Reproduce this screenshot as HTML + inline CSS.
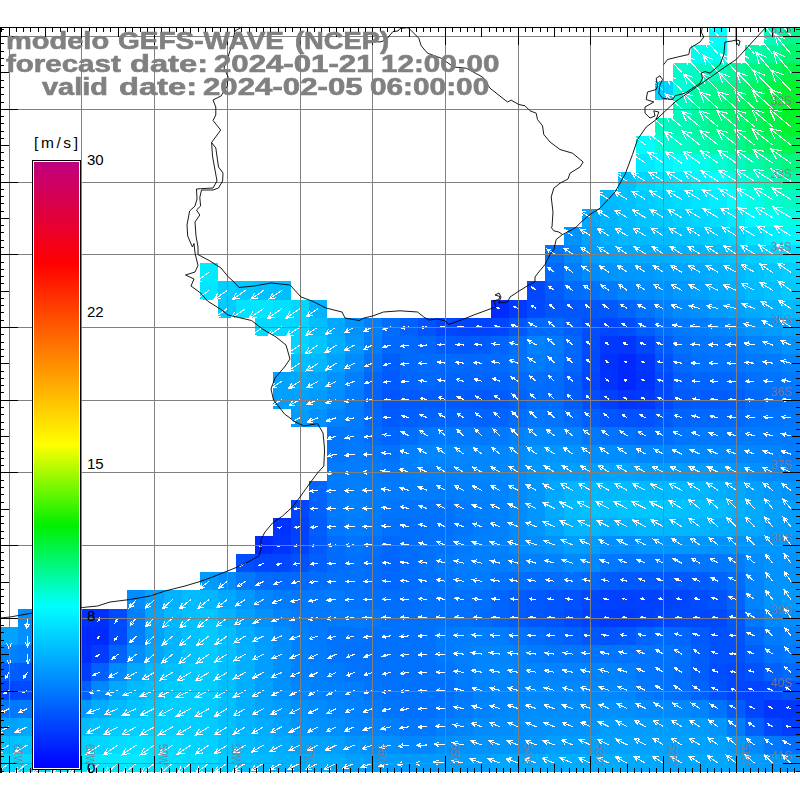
<!DOCTYPE html>
<html><head><meta charset="utf-8"><title>GEFS-WAVE wind</title>
<style>
html,body{margin:0;padding:0;background:#fff}
#c{position:relative;width:800px;height:800px;overflow:hidden;background:#fff;font-family:"Liberation Sans",sans-serif}
.t{position:absolute;white-space:nowrap;font-weight:bold;color:#808080;font-size:24.5px;line-height:24.5px;transform-origin:0 0;-webkit-text-stroke:0.65px #808080;will-change:transform}
.lat{position:absolute;right:8px;width:60px;text-align:right;font-size:12.5px;line-height:12.5px;color:rgba(136,120,136,.85);transform-origin:100% 0;transform:scaleX(.95)}
.lon{position:absolute;top:744px;font-size:12px;line-height:12px;color:rgba(136,120,136,.85);transform-origin:0 0;transform:rotate(90deg) translate(0,-10.2px) scaleX(.86);white-space:nowrap}
.cbl{position:absolute;left:87px;font-size:15px;line-height:18px;color:#000}
#cb{position:absolute;left:32px;top:160px;width:45px;height:606px;border:1px solid #fff;outline:1px solid #000;outline-offset:0;background:linear-gradient(to bottom,#c00080 0.00%,#ff0000 16.67%,#ffff00 46.67%,#00f000 60.00%,#00ffff 73.33%,#0000ff 100.00%)}
</style></head><body><div id="c">
<svg width="800" height="800" viewBox="0 0 800 800" style="position:absolute;left:0;top:0">
<g shape-rendering="crispEdges">
<rect x="709" y="27" width="18" height="18" fill="#00ffff"/>
<rect x="764" y="27" width="18" height="18" fill="#00fbbc"/>
<rect x="782" y="27" width="18" height="18" fill="#00f88d"/>
<rect x="691" y="45" width="36" height="18" fill="#00feef"/>
<rect x="745" y="45" width="19" height="18" fill="#00faab"/>
<rect x="764" y="45" width="18" height="18" fill="#00f996"/>
<rect x="782" y="45" width="18" height="18" fill="#00f66e"/>
<rect x="673" y="63" width="18" height="18" fill="#00fccc"/>
<rect x="691" y="63" width="18" height="18" fill="#00fbc3"/>
<rect x="709" y="63" width="18" height="18" fill="#00fbba"/>
<rect x="727" y="63" width="18" height="18" fill="#00f99c"/>
<rect x="745" y="63" width="19" height="18" fill="#00f882"/>
<rect x="764" y="63" width="18" height="18" fill="#00f664"/>
<rect x="782" y="63" width="18" height="18" fill="#00f448"/>
<rect x="655" y="81" width="18" height="19" fill="#00d3ff"/>
<rect x="673" y="81" width="18" height="19" fill="#00fdd6"/>
<rect x="691" y="81" width="18" height="19" fill="#00faa5"/>
<rect x="709" y="81" width="18" height="19" fill="#00f88e"/>
<rect x="727" y="81" width="18" height="19" fill="#00f77d"/>
<rect x="745" y="81" width="19" height="19" fill="#00f664"/>
<rect x="764" y="81" width="18" height="19" fill="#00f446"/>
<rect x="782" y="81" width="18" height="19" fill="#00f32d"/>
<rect x="673" y="100" width="18" height="18" fill="#00fbc1"/>
<rect x="691" y="100" width="18" height="18" fill="#00f99f"/>
<rect x="709" y="100" width="18" height="18" fill="#00f882"/>
<rect x="727" y="100" width="18" height="18" fill="#00f66d"/>
<rect x="745" y="100" width="19" height="18" fill="#00f55c"/>
<rect x="764" y="100" width="18" height="18" fill="#00f440"/>
<rect x="782" y="100" width="18" height="18" fill="#00f227"/>
<rect x="655" y="118" width="18" height="18" fill="#00fbc2"/>
<rect x="673" y="118" width="18" height="18" fill="#00fbb9"/>
<rect x="691" y="118" width="18" height="18" fill="#00f9a0"/>
<rect x="709" y="118" width="18" height="18" fill="#00f888"/>
<rect x="727" y="118" width="18" height="18" fill="#00f777"/>
<rect x="745" y="118" width="19" height="18" fill="#00f660"/>
<rect x="764" y="118" width="18" height="18" fill="#00f445"/>
<rect x="782" y="118" width="18" height="18" fill="#00f32d"/>
<rect x="636" y="136" width="19" height="18" fill="#00fffa"/>
<rect x="655" y="136" width="18" height="18" fill="#00fdd8"/>
<rect x="673" y="136" width="18" height="18" fill="#00fcc7"/>
<rect x="691" y="136" width="18" height="18" fill="#00fbb3"/>
<rect x="709" y="136" width="18" height="18" fill="#00faa3"/>
<rect x="727" y="136" width="18" height="18" fill="#00f88d"/>
<rect x="745" y="136" width="19" height="18" fill="#00f774"/>
<rect x="764" y="136" width="18" height="18" fill="#00f662"/>
<rect x="782" y="136" width="18" height="18" fill="#00f54d"/>
<rect x="636" y="154" width="19" height="18" fill="#00ebff"/>
<rect x="655" y="154" width="18" height="18" fill="#00f7ff"/>
<rect x="673" y="154" width="18" height="18" fill="#00fffd"/>
<rect x="691" y="154" width="18" height="18" fill="#00feea"/>
<rect x="709" y="154" width="18" height="18" fill="#00fdd8"/>
<rect x="727" y="154" width="18" height="18" fill="#00fbc2"/>
<rect x="745" y="154" width="19" height="18" fill="#00faab"/>
<rect x="764" y="154" width="18" height="18" fill="#00f995"/>
<rect x="782" y="154" width="18" height="18" fill="#00f880"/>
<rect x="618" y="172" width="18" height="18" fill="#00c2ff"/>
<rect x="636" y="172" width="19" height="18" fill="#00d5ff"/>
<rect x="655" y="172" width="18" height="18" fill="#00e1ff"/>
<rect x="673" y="172" width="18" height="18" fill="#00eaff"/>
<rect x="691" y="172" width="18" height="18" fill="#00f5ff"/>
<rect x="709" y="172" width="18" height="18" fill="#00feff"/>
<rect x="727" y="172" width="18" height="18" fill="#00fde3"/>
<rect x="745" y="172" width="19" height="18" fill="#00fcca"/>
<rect x="764" y="172" width="18" height="18" fill="#00fbb4"/>
<rect x="782" y="172" width="18" height="18" fill="#00faa4"/>
<rect x="600" y="190" width="18" height="19" fill="#00b9ff"/>
<rect x="618" y="190" width="18" height="19" fill="#00c1ff"/>
<rect x="636" y="190" width="19" height="19" fill="#00cbff"/>
<rect x="655" y="190" width="18" height="19" fill="#00d4ff"/>
<rect x="673" y="190" width="18" height="19" fill="#00dcff"/>
<rect x="691" y="190" width="18" height="19" fill="#00e5ff"/>
<rect x="709" y="190" width="18" height="19" fill="#00eeff"/>
<rect x="727" y="190" width="18" height="19" fill="#00fdff"/>
<rect x="745" y="190" width="19" height="19" fill="#00fee7"/>
<rect x="764" y="190" width="18" height="19" fill="#00fcd0"/>
<rect x="782" y="190" width="18" height="19" fill="#00fbc3"/>
<rect x="582" y="209" width="18" height="18" fill="#00a8ff"/>
<rect x="600" y="209" width="18" height="18" fill="#00b3ff"/>
<rect x="618" y="209" width="18" height="18" fill="#00bcff"/>
<rect x="636" y="209" width="19" height="18" fill="#00c3ff"/>
<rect x="655" y="209" width="18" height="18" fill="#00c8ff"/>
<rect x="673" y="209" width="18" height="18" fill="#00ceff"/>
<rect x="691" y="209" width="18" height="18" fill="#00d5ff"/>
<rect x="709" y="209" width="18" height="18" fill="#00deff"/>
<rect x="727" y="209" width="18" height="18" fill="#00eaff"/>
<rect x="745" y="209" width="19" height="18" fill="#00f8ff"/>
<rect x="764" y="209" width="18" height="18" fill="#00fef5"/>
<rect x="782" y="209" width="18" height="18" fill="#00fde5"/>
<rect x="564" y="227" width="18" height="18" fill="#0093ff"/>
<rect x="582" y="227" width="18" height="18" fill="#00a3ff"/>
<rect x="600" y="227" width="18" height="18" fill="#00aeff"/>
<rect x="618" y="227" width="18" height="18" fill="#00b6ff"/>
<rect x="636" y="227" width="19" height="18" fill="#00b9ff"/>
<rect x="655" y="227" width="18" height="18" fill="#00bcff"/>
<rect x="673" y="227" width="18" height="18" fill="#00c1ff"/>
<rect x="691" y="227" width="18" height="18" fill="#00c7ff"/>
<rect x="709" y="227" width="18" height="18" fill="#00cdff"/>
<rect x="727" y="227" width="18" height="18" fill="#00d5ff"/>
<rect x="745" y="227" width="19" height="18" fill="#00e2ff"/>
<rect x="764" y="227" width="18" height="18" fill="#00eeff"/>
<rect x="782" y="227" width="18" height="18" fill="#00f7ff"/>
<rect x="545" y="245" width="19" height="18" fill="#0073ff"/>
<rect x="564" y="245" width="18" height="18" fill="#0089ff"/>
<rect x="582" y="245" width="18" height="18" fill="#009bff"/>
<rect x="600" y="245" width="18" height="18" fill="#00a4ff"/>
<rect x="618" y="245" width="18" height="18" fill="#00a8ff"/>
<rect x="636" y="245" width="19" height="18" fill="#00aaff"/>
<rect x="655" y="245" width="18" height="18" fill="#00aeff"/>
<rect x="673" y="245" width="18" height="18" fill="#00b2ff"/>
<rect x="691" y="245" width="18" height="18" fill="#00b7ff"/>
<rect x="709" y="245" width="18" height="18" fill="#00bdff"/>
<rect x="727" y="245" width="18" height="18" fill="#00c4ff"/>
<rect x="745" y="245" width="19" height="18" fill="#00cdff"/>
<rect x="764" y="245" width="18" height="18" fill="#00d6ff"/>
<rect x="782" y="245" width="18" height="18" fill="#00ddff"/>
<rect x="200" y="263" width="18" height="18" fill="#00edff"/>
<rect x="545" y="263" width="19" height="18" fill="#0069ff"/>
<rect x="564" y="263" width="18" height="18" fill="#007eff"/>
<rect x="582" y="263" width="18" height="18" fill="#008cff"/>
<rect x="600" y="263" width="18" height="18" fill="#0094ff"/>
<rect x="618" y="263" width="18" height="18" fill="#0098ff"/>
<rect x="636" y="263" width="19" height="18" fill="#009aff"/>
<rect x="655" y="263" width="18" height="18" fill="#009eff"/>
<rect x="673" y="263" width="18" height="18" fill="#00a4ff"/>
<rect x="691" y="263" width="18" height="18" fill="#00a9ff"/>
<rect x="709" y="263" width="18" height="18" fill="#00b1ff"/>
<rect x="727" y="263" width="18" height="18" fill="#00b8ff"/>
<rect x="745" y="263" width="19" height="18" fill="#00c1ff"/>
<rect x="764" y="263" width="18" height="18" fill="#00c8ff"/>
<rect x="782" y="263" width="18" height="18" fill="#00cfff"/>
<rect x="200" y="281" width="18" height="19" fill="#00e7ff"/>
<rect x="218" y="281" width="18" height="19" fill="#00ceff"/>
<rect x="236" y="281" width="19" height="19" fill="#00c9ff"/>
<rect x="255" y="281" width="18" height="19" fill="#00c1ff"/>
<rect x="273" y="281" width="18" height="19" fill="#00bfff"/>
<rect x="527" y="281" width="18" height="19" fill="#0047ff"/>
<rect x="545" y="281" width="19" height="19" fill="#005cff"/>
<rect x="564" y="281" width="18" height="19" fill="#006bff"/>
<rect x="582" y="281" width="18" height="19" fill="#0071ff"/>
<rect x="600" y="281" width="18" height="19" fill="#007bff"/>
<rect x="618" y="281" width="18" height="19" fill="#0086ff"/>
<rect x="636" y="281" width="19" height="19" fill="#008bff"/>
<rect x="655" y="281" width="18" height="19" fill="#0091ff"/>
<rect x="673" y="281" width="18" height="19" fill="#009aff"/>
<rect x="691" y="281" width="18" height="19" fill="#00a0ff"/>
<rect x="709" y="281" width="18" height="19" fill="#00aaff"/>
<rect x="727" y="281" width="18" height="19" fill="#00b0ff"/>
<rect x="745" y="281" width="19" height="19" fill="#00baff"/>
<rect x="764" y="281" width="18" height="19" fill="#00c0ff"/>
<rect x="782" y="281" width="18" height="19" fill="#00c9ff"/>
<rect x="218" y="300" width="18" height="18" fill="#00ccff"/>
<rect x="236" y="300" width="19" height="18" fill="#00e5ff"/>
<rect x="255" y="300" width="18" height="18" fill="#00e6ff"/>
<rect x="273" y="300" width="18" height="18" fill="#00e1ff"/>
<rect x="291" y="300" width="18" height="18" fill="#00d7ff"/>
<rect x="309" y="300" width="18" height="18" fill="#00b4ff"/>
<rect x="491" y="300" width="18" height="18" fill="#002cff"/>
<rect x="509" y="300" width="18" height="18" fill="#003aff"/>
<rect x="527" y="300" width="18" height="18" fill="#0049ff"/>
<rect x="545" y="300" width="19" height="18" fill="#0055ff"/>
<rect x="564" y="300" width="18" height="18" fill="#0057ff"/>
<rect x="582" y="300" width="18" height="18" fill="#0056ff"/>
<rect x="600" y="300" width="18" height="18" fill="#0059ff"/>
<rect x="618" y="300" width="18" height="18" fill="#0065ff"/>
<rect x="636" y="300" width="19" height="18" fill="#0073ff"/>
<rect x="655" y="300" width="18" height="18" fill="#0080ff"/>
<rect x="673" y="300" width="18" height="18" fill="#008bff"/>
<rect x="691" y="300" width="18" height="18" fill="#0091ff"/>
<rect x="709" y="300" width="18" height="18" fill="#009bff"/>
<rect x="727" y="300" width="18" height="18" fill="#00a1ff"/>
<rect x="745" y="300" width="19" height="18" fill="#00abff"/>
<rect x="764" y="300" width="18" height="18" fill="#00b1ff"/>
<rect x="782" y="300" width="18" height="18" fill="#00baff"/>
<rect x="255" y="318" width="18" height="18" fill="#00dbff"/>
<rect x="273" y="318" width="18" height="18" fill="#00d9ff"/>
<rect x="291" y="318" width="18" height="18" fill="#00d5ff"/>
<rect x="309" y="318" width="18" height="18" fill="#00bfff"/>
<rect x="327" y="318" width="18" height="18" fill="#00a9ff"/>
<rect x="345" y="318" width="19" height="18" fill="#0093ff"/>
<rect x="364" y="318" width="18" height="18" fill="#0080ff"/>
<rect x="382" y="318" width="18" height="18" fill="#006dff"/>
<rect x="400" y="318" width="18" height="18" fill="#0060ff"/>
<rect x="418" y="318" width="18" height="18" fill="#0053ff"/>
<rect x="436" y="318" width="19" height="18" fill="#0047ff"/>
<rect x="455" y="318" width="18" height="18" fill="#0044ff"/>
<rect x="473" y="318" width="18" height="18" fill="#0043ff"/>
<rect x="491" y="318" width="18" height="18" fill="#0045ff"/>
<rect x="509" y="318" width="18" height="18" fill="#0057ff"/>
<rect x="527" y="318" width="18" height="18" fill="#0068ff"/>
<rect x="545" y="318" width="19" height="18" fill="#0069ff"/>
<rect x="564" y="318" width="18" height="18" fill="#005dff"/>
<rect x="582" y="318" width="18" height="18" fill="#004eff"/>
<rect x="600" y="318" width="18" height="18" fill="#0045ff"/>
<rect x="618" y="318" width="18" height="18" fill="#004dff"/>
<rect x="636" y="318" width="19" height="18" fill="#005dff"/>
<rect x="655" y="318" width="18" height="18" fill="#006eff"/>
<rect x="673" y="318" width="18" height="18" fill="#0079ff"/>
<rect x="691" y="318" width="18" height="18" fill="#007dff"/>
<rect x="709" y="318" width="18" height="18" fill="#0085ff"/>
<rect x="727" y="318" width="18" height="18" fill="#008bff"/>
<rect x="745" y="318" width="19" height="18" fill="#0095ff"/>
<rect x="764" y="318" width="18" height="18" fill="#009bff"/>
<rect x="782" y="318" width="18" height="18" fill="#00a4ff"/>
<rect x="291" y="336" width="18" height="18" fill="#00d4ff"/>
<rect x="309" y="336" width="18" height="18" fill="#00c6ff"/>
<rect x="327" y="336" width="18" height="18" fill="#00adff"/>
<rect x="345" y="336" width="19" height="18" fill="#0097ff"/>
<rect x="364" y="336" width="18" height="18" fill="#007dff"/>
<rect x="382" y="336" width="36" height="18" fill="#0067ff"/>
<rect x="418" y="336" width="18" height="18" fill="#0065ff"/>
<rect x="436" y="336" width="19" height="18" fill="#005cff"/>
<rect x="455" y="336" width="18" height="18" fill="#0059ff"/>
<rect x="473" y="336" width="18" height="18" fill="#005bff"/>
<rect x="491" y="336" width="18" height="18" fill="#0064ff"/>
<rect x="509" y="336" width="18" height="18" fill="#0071ff"/>
<rect x="527" y="336" width="18" height="18" fill="#0081ff"/>
<rect x="545" y="336" width="19" height="18" fill="#007bff"/>
<rect x="564" y="336" width="18" height="18" fill="#0067ff"/>
<rect x="582" y="336" width="18" height="18" fill="#004dff"/>
<rect x="600" y="336" width="18" height="18" fill="#0038ff"/>
<rect x="618" y="336" width="18" height="18" fill="#0036ff"/>
<rect x="636" y="336" width="19" height="18" fill="#0045ff"/>
<rect x="655" y="336" width="18" height="18" fill="#005eff"/>
<rect x="673" y="336" width="18" height="18" fill="#0070ff"/>
<rect x="691" y="336" width="18" height="18" fill="#0076ff"/>
<rect x="709" y="336" width="18" height="18" fill="#0078ff"/>
<rect x="727" y="336" width="18" height="18" fill="#007bff"/>
<rect x="745" y="336" width="19" height="18" fill="#0083ff"/>
<rect x="764" y="336" width="18" height="18" fill="#0089ff"/>
<rect x="782" y="336" width="18" height="18" fill="#0092ff"/>
<rect x="291" y="354" width="18" height="18" fill="#00bfff"/>
<rect x="309" y="354" width="18" height="18" fill="#00b8ff"/>
<rect x="327" y="354" width="18" height="18" fill="#00a2ff"/>
<rect x="345" y="354" width="19" height="18" fill="#008cff"/>
<rect x="364" y="354" width="18" height="18" fill="#0070ff"/>
<rect x="382" y="354" width="18" height="18" fill="#005eff"/>
<rect x="400" y="354" width="18" height="18" fill="#0068ff"/>
<rect x="418" y="354" width="18" height="18" fill="#006cff"/>
<rect x="436" y="354" width="19" height="18" fill="#0069ff"/>
<rect x="455" y="354" width="18" height="18" fill="#0068ff"/>
<rect x="473" y="354" width="18" height="18" fill="#0069ff"/>
<rect x="491" y="354" width="18" height="18" fill="#006cff"/>
<rect x="509" y="354" width="18" height="18" fill="#0073ff"/>
<rect x="527" y="354" width="18" height="18" fill="#007cff"/>
<rect x="545" y="354" width="19" height="18" fill="#0075ff"/>
<rect x="564" y="354" width="18" height="18" fill="#0066ff"/>
<rect x="582" y="354" width="18" height="18" fill="#004bff"/>
<rect x="600" y="354" width="18" height="18" fill="#0032ff"/>
<rect x="618" y="354" width="18" height="18" fill="#0028ff"/>
<rect x="636" y="354" width="19" height="18" fill="#0036ff"/>
<rect x="655" y="354" width="18" height="18" fill="#0051ff"/>
<rect x="673" y="354" width="18" height="18" fill="#0067ff"/>
<rect x="691" y="354" width="18" height="18" fill="#0071ff"/>
<rect x="709" y="354" width="18" height="18" fill="#0073ff"/>
<rect x="727" y="354" width="18" height="18" fill="#0074ff"/>
<rect x="745" y="354" width="19" height="18" fill="#0078ff"/>
<rect x="764" y="354" width="18" height="18" fill="#007bff"/>
<rect x="782" y="354" width="18" height="18" fill="#0083ff"/>
<rect x="273" y="372" width="18" height="18" fill="#00a4ff"/>
<rect x="291" y="372" width="18" height="18" fill="#00abff"/>
<rect x="309" y="372" width="18" height="18" fill="#00a4ff"/>
<rect x="327" y="372" width="18" height="18" fill="#0093ff"/>
<rect x="345" y="372" width="19" height="18" fill="#0080ff"/>
<rect x="364" y="372" width="18" height="18" fill="#0066ff"/>
<rect x="382" y="372" width="18" height="18" fill="#005aff"/>
<rect x="400" y="372" width="18" height="18" fill="#0064ff"/>
<rect x="418" y="372" width="18" height="18" fill="#0067ff"/>
<rect x="436" y="372" width="19" height="18" fill="#0065ff"/>
<rect x="455" y="372" width="36" height="18" fill="#0064ff"/>
<rect x="491" y="372" width="18" height="18" fill="#0065ff"/>
<rect x="509" y="372" width="18" height="18" fill="#006aff"/>
<rect x="527" y="372" width="18" height="18" fill="#006fff"/>
<rect x="545" y="372" width="19" height="18" fill="#006bff"/>
<rect x="564" y="372" width="18" height="18" fill="#005dff"/>
<rect x="582" y="372" width="18" height="18" fill="#0045ff"/>
<rect x="600" y="372" width="18" height="18" fill="#0033ff"/>
<rect x="618" y="372" width="18" height="18" fill="#0028ff"/>
<rect x="636" y="372" width="19" height="18" fill="#0033ff"/>
<rect x="655" y="372" width="18" height="18" fill="#004bff"/>
<rect x="673" y="372" width="18" height="18" fill="#005fff"/>
<rect x="691" y="372" width="18" height="18" fill="#0065ff"/>
<rect x="709" y="372" width="18" height="18" fill="#0066ff"/>
<rect x="727" y="372" width="18" height="18" fill="#0068ff"/>
<rect x="745" y="372" width="19" height="18" fill="#0071ff"/>
<rect x="764" y="372" width="18" height="18" fill="#0074ff"/>
<rect x="782" y="372" width="18" height="18" fill="#0078ff"/>
<rect x="273" y="390" width="18" height="19" fill="#00a0ff"/>
<rect x="291" y="390" width="18" height="19" fill="#00a1ff"/>
<rect x="309" y="390" width="18" height="19" fill="#009bff"/>
<rect x="327" y="390" width="18" height="19" fill="#008dff"/>
<rect x="345" y="390" width="19" height="19" fill="#007cff"/>
<rect x="364" y="390" width="18" height="19" fill="#0064ff"/>
<rect x="382" y="390" width="18" height="19" fill="#0055ff"/>
<rect x="400" y="390" width="18" height="19" fill="#005aff"/>
<rect x="418" y="390" width="18" height="19" fill="#005cff"/>
<rect x="436" y="390" width="19" height="19" fill="#005bff"/>
<rect x="455" y="390" width="18" height="19" fill="#005aff"/>
<rect x="473" y="390" width="18" height="19" fill="#0059ff"/>
<rect x="491" y="390" width="18" height="19" fill="#005bff"/>
<rect x="509" y="390" width="18" height="19" fill="#0063ff"/>
<rect x="527" y="390" width="18" height="19" fill="#006cff"/>
<rect x="545" y="390" width="19" height="19" fill="#006bff"/>
<rect x="564" y="390" width="18" height="19" fill="#005eff"/>
<rect x="582" y="390" width="18" height="19" fill="#004eff"/>
<rect x="600" y="390" width="18" height="19" fill="#0040ff"/>
<rect x="618" y="390" width="18" height="19" fill="#0036ff"/>
<rect x="636" y="390" width="19" height="19" fill="#0039ff"/>
<rect x="655" y="390" width="18" height="19" fill="#0049ff"/>
<rect x="673" y="390" width="18" height="19" fill="#0058ff"/>
<rect x="691" y="390" width="36" height="19" fill="#005cff"/>
<rect x="727" y="390" width="18" height="19" fill="#005fff"/>
<rect x="745" y="390" width="19" height="19" fill="#0069ff"/>
<rect x="764" y="390" width="18" height="19" fill="#006eff"/>
<rect x="782" y="390" width="18" height="19" fill="#0074ff"/>
<rect x="291" y="409" width="18" height="18" fill="#009dff"/>
<rect x="309" y="409" width="18" height="18" fill="#0091ff"/>
<rect x="327" y="409" width="18" height="18" fill="#0082ff"/>
<rect x="345" y="409" width="19" height="18" fill="#007aff"/>
<rect x="364" y="409" width="18" height="18" fill="#006aff"/>
<rect x="382" y="409" width="18" height="18" fill="#005bff"/>
<rect x="400" y="409" width="18" height="18" fill="#0060ff"/>
<rect x="418" y="409" width="18" height="18" fill="#0063ff"/>
<rect x="436" y="409" width="19" height="18" fill="#0064ff"/>
<rect x="455" y="409" width="18" height="18" fill="#0066ff"/>
<rect x="473" y="409" width="18" height="18" fill="#0063ff"/>
<rect x="491" y="409" width="18" height="18" fill="#0064ff"/>
<rect x="509" y="409" width="18" height="18" fill="#006fff"/>
<rect x="527" y="409" width="18" height="18" fill="#0077ff"/>
<rect x="545" y="409" width="19" height="18" fill="#0073ff"/>
<rect x="564" y="409" width="18" height="18" fill="#006cff"/>
<rect x="582" y="409" width="18" height="18" fill="#0060ff"/>
<rect x="600" y="409" width="18" height="18" fill="#0055ff"/>
<rect x="618" y="409" width="37" height="18" fill="#0051ff"/>
<rect x="655" y="409" width="18" height="18" fill="#005bff"/>
<rect x="673" y="409" width="18" height="18" fill="#0065ff"/>
<rect x="691" y="409" width="36" height="18" fill="#0067ff"/>
<rect x="727" y="409" width="18" height="18" fill="#0069ff"/>
<rect x="745" y="409" width="19" height="18" fill="#0071ff"/>
<rect x="764" y="409" width="18" height="18" fill="#0074ff"/>
<rect x="782" y="409" width="18" height="18" fill="#0076ff"/>
<rect x="327" y="427" width="18" height="18" fill="#0076ff"/>
<rect x="345" y="427" width="19" height="18" fill="#0078ff"/>
<rect x="364" y="427" width="18" height="18" fill="#006fff"/>
<rect x="382" y="427" width="18" height="18" fill="#0065ff"/>
<rect x="400" y="427" width="18" height="18" fill="#006fff"/>
<rect x="418" y="427" width="18" height="18" fill="#0078ff"/>
<rect x="436" y="427" width="19" height="18" fill="#007aff"/>
<rect x="455" y="427" width="18" height="18" fill="#007bff"/>
<rect x="473" y="427" width="18" height="18" fill="#0078ff"/>
<rect x="491" y="427" width="18" height="18" fill="#007aff"/>
<rect x="509" y="427" width="18" height="18" fill="#0082ff"/>
<rect x="527" y="427" width="18" height="18" fill="#0088ff"/>
<rect x="545" y="427" width="19" height="18" fill="#0087ff"/>
<rect x="564" y="427" width="18" height="18" fill="#0084ff"/>
<rect x="582" y="427" width="18" height="18" fill="#0079ff"/>
<rect x="600" y="427" width="18" height="18" fill="#0073ff"/>
<rect x="618" y="427" width="18" height="18" fill="#0071ff"/>
<rect x="636" y="427" width="19" height="18" fill="#006cff"/>
<rect x="655" y="427" width="18" height="18" fill="#006fff"/>
<rect x="673" y="427" width="18" height="18" fill="#0076ff"/>
<rect x="691" y="427" width="54" height="18" fill="#0079ff"/>
<rect x="745" y="427" width="37" height="18" fill="#007bff"/>
<rect x="782" y="427" width="18" height="18" fill="#0079ff"/>
<rect x="327" y="445" width="18" height="18" fill="#0075ff"/>
<rect x="345" y="445" width="19" height="18" fill="#007aff"/>
<rect x="364" y="445" width="18" height="18" fill="#0077ff"/>
<rect x="382" y="445" width="18" height="18" fill="#0072ff"/>
<rect x="400" y="445" width="18" height="18" fill="#0080ff"/>
<rect x="418" y="445" width="18" height="18" fill="#0086ff"/>
<rect x="436" y="445" width="37" height="18" fill="#0087ff"/>
<rect x="473" y="445" width="18" height="18" fill="#0086ff"/>
<rect x="491" y="445" width="18" height="18" fill="#0087ff"/>
<rect x="509" y="445" width="18" height="18" fill="#008bff"/>
<rect x="527" y="445" width="18" height="18" fill="#0094ff"/>
<rect x="545" y="445" width="19" height="18" fill="#0096ff"/>
<rect x="564" y="445" width="18" height="18" fill="#0094ff"/>
<rect x="582" y="445" width="18" height="18" fill="#008dff"/>
<rect x="600" y="445" width="36" height="18" fill="#008eff"/>
<rect x="636" y="445" width="19" height="18" fill="#0088ff"/>
<rect x="655" y="445" width="18" height="18" fill="#0087ff"/>
<rect x="673" y="445" width="72" height="18" fill="#0089ff"/>
<rect x="745" y="445" width="19" height="18" fill="#0087ff"/>
<rect x="764" y="445" width="18" height="18" fill="#0084ff"/>
<rect x="782" y="445" width="18" height="18" fill="#007eff"/>
<rect x="327" y="463" width="18" height="18" fill="#007cff"/>
<rect x="345" y="463" width="19" height="18" fill="#007eff"/>
<rect x="364" y="463" width="18" height="18" fill="#007cff"/>
<rect x="382" y="463" width="18" height="18" fill="#0077ff"/>
<rect x="400" y="463" width="18" height="18" fill="#007fff"/>
<rect x="418" y="463" width="37" height="18" fill="#0082ff"/>
<rect x="455" y="463" width="18" height="18" fill="#0083ff"/>
<rect x="473" y="463" width="18" height="18" fill="#0086ff"/>
<rect x="491" y="463" width="18" height="18" fill="#0088ff"/>
<rect x="509" y="463" width="18" height="18" fill="#008cff"/>
<rect x="527" y="463" width="18" height="18" fill="#0096ff"/>
<rect x="545" y="463" width="19" height="18" fill="#009cff"/>
<rect x="564" y="463" width="18" height="18" fill="#009eff"/>
<rect x="582" y="463" width="18" height="18" fill="#009fff"/>
<rect x="600" y="463" width="36" height="18" fill="#00a3ff"/>
<rect x="636" y="463" width="19" height="18" fill="#009eff"/>
<rect x="655" y="463" width="54" height="18" fill="#009dff"/>
<rect x="709" y="463" width="18" height="18" fill="#009bff"/>
<rect x="727" y="463" width="18" height="18" fill="#0098ff"/>
<rect x="745" y="463" width="19" height="18" fill="#0090ff"/>
<rect x="764" y="463" width="18" height="18" fill="#008cff"/>
<rect x="782" y="463" width="18" height="18" fill="#0089ff"/>
<rect x="309" y="481" width="18" height="19" fill="#0066ff"/>
<rect x="327" y="481" width="18" height="19" fill="#007aff"/>
<rect x="345" y="481" width="19" height="19" fill="#0080ff"/>
<rect x="364" y="481" width="18" height="19" fill="#007eff"/>
<rect x="382" y="481" width="18" height="19" fill="#007bff"/>
<rect x="400" y="481" width="18" height="19" fill="#007cff"/>
<rect x="418" y="481" width="37" height="19" fill="#007dff"/>
<rect x="455" y="481" width="18" height="19" fill="#007fff"/>
<rect x="473" y="481" width="18" height="19" fill="#0081ff"/>
<rect x="491" y="481" width="18" height="19" fill="#0084ff"/>
<rect x="509" y="481" width="18" height="19" fill="#008cff"/>
<rect x="527" y="481" width="18" height="19" fill="#0095ff"/>
<rect x="545" y="481" width="19" height="19" fill="#00a7ff"/>
<rect x="564" y="481" width="18" height="19" fill="#00b4ff"/>
<rect x="582" y="481" width="36" height="19" fill="#00b8ff"/>
<rect x="618" y="481" width="37" height="19" fill="#00b9ff"/>
<rect x="655" y="481" width="36" height="19" fill="#00b8ff"/>
<rect x="691" y="481" width="18" height="19" fill="#00b6ff"/>
<rect x="709" y="481" width="18" height="19" fill="#00afff"/>
<rect x="727" y="481" width="18" height="19" fill="#00a9ff"/>
<rect x="745" y="481" width="19" height="19" fill="#00a0ff"/>
<rect x="764" y="481" width="18" height="19" fill="#009aff"/>
<rect x="782" y="481" width="18" height="19" fill="#0094ff"/>
<rect x="291" y="500" width="18" height="18" fill="#0047ff"/>
<rect x="309" y="500" width="18" height="18" fill="#0061ff"/>
<rect x="327" y="500" width="18" height="18" fill="#007aff"/>
<rect x="345" y="500" width="19" height="18" fill="#0080ff"/>
<rect x="364" y="500" width="18" height="18" fill="#007dff"/>
<rect x="382" y="500" width="18" height="18" fill="#0075ff"/>
<rect x="400" y="500" width="36" height="18" fill="#0073ff"/>
<rect x="436" y="500" width="19" height="18" fill="#0074ff"/>
<rect x="455" y="500" width="18" height="18" fill="#007bff"/>
<rect x="473" y="500" width="18" height="18" fill="#007fff"/>
<rect x="491" y="500" width="18" height="18" fill="#0082ff"/>
<rect x="509" y="500" width="18" height="18" fill="#008cff"/>
<rect x="527" y="500" width="18" height="18" fill="#0095ff"/>
<rect x="545" y="500" width="19" height="18" fill="#00aaff"/>
<rect x="564" y="500" width="18" height="18" fill="#00bbff"/>
<rect x="582" y="500" width="18" height="18" fill="#00c2ff"/>
<rect x="600" y="500" width="18" height="18" fill="#00beff"/>
<rect x="618" y="500" width="18" height="18" fill="#00c4ff"/>
<rect x="636" y="500" width="19" height="18" fill="#00c6ff"/>
<rect x="655" y="500" width="18" height="18" fill="#00c5ff"/>
<rect x="673" y="500" width="18" height="18" fill="#00c1ff"/>
<rect x="691" y="500" width="18" height="18" fill="#00beff"/>
<rect x="709" y="500" width="18" height="18" fill="#00b9ff"/>
<rect x="727" y="500" width="18" height="18" fill="#00b1ff"/>
<rect x="745" y="500" width="19" height="18" fill="#00aaff"/>
<rect x="764" y="500" width="18" height="18" fill="#00a1ff"/>
<rect x="782" y="500" width="18" height="18" fill="#009dff"/>
<rect x="273" y="518" width="18" height="18" fill="#0033ff"/>
<rect x="291" y="518" width="18" height="18" fill="#0043ff"/>
<rect x="309" y="518" width="18" height="18" fill="#005dff"/>
<rect x="327" y="518" width="18" height="18" fill="#0077ff"/>
<rect x="345" y="518" width="19" height="18" fill="#007dff"/>
<rect x="364" y="518" width="18" height="18" fill="#007aff"/>
<rect x="382" y="518" width="18" height="18" fill="#0070ff"/>
<rect x="400" y="518" width="18" height="18" fill="#006fff"/>
<rect x="418" y="518" width="18" height="18" fill="#0070ff"/>
<rect x="436" y="518" width="19" height="18" fill="#0071ff"/>
<rect x="455" y="518" width="18" height="18" fill="#0076ff"/>
<rect x="473" y="518" width="18" height="18" fill="#007eff"/>
<rect x="491" y="518" width="18" height="18" fill="#0082ff"/>
<rect x="509" y="518" width="18" height="18" fill="#008cff"/>
<rect x="527" y="518" width="18" height="18" fill="#0094ff"/>
<rect x="545" y="518" width="19" height="18" fill="#00a5ff"/>
<rect x="564" y="518" width="18" height="18" fill="#00b4ff"/>
<rect x="582" y="518" width="18" height="18" fill="#00b6ff"/>
<rect x="600" y="518" width="18" height="18" fill="#00aeff"/>
<rect x="618" y="518" width="18" height="18" fill="#00b3ff"/>
<rect x="636" y="518" width="55" height="18" fill="#00b7ff"/>
<rect x="691" y="518" width="18" height="18" fill="#00b5ff"/>
<rect x="709" y="518" width="18" height="18" fill="#00aeff"/>
<rect x="727" y="518" width="18" height="18" fill="#00aaff"/>
<rect x="745" y="518" width="19" height="18" fill="#00a8ff"/>
<rect x="764" y="518" width="18" height="18" fill="#009fff"/>
<rect x="782" y="518" width="18" height="18" fill="#009dff"/>
<rect x="255" y="536" width="18" height="18" fill="#002bff"/>
<rect x="273" y="536" width="18" height="18" fill="#0034ff"/>
<rect x="291" y="536" width="18" height="18" fill="#0043ff"/>
<rect x="309" y="536" width="18" height="18" fill="#0058ff"/>
<rect x="327" y="536" width="18" height="18" fill="#006dff"/>
<rect x="345" y="536" width="19" height="18" fill="#0073ff"/>
<rect x="364" y="536" width="18" height="18" fill="#0070ff"/>
<rect x="382" y="536" width="18" height="18" fill="#0068ff"/>
<rect x="400" y="536" width="18" height="18" fill="#006dff"/>
<rect x="418" y="536" width="18" height="18" fill="#0070ff"/>
<rect x="436" y="536" width="19" height="18" fill="#0074ff"/>
<rect x="455" y="536" width="18" height="18" fill="#007bff"/>
<rect x="473" y="536" width="18" height="18" fill="#007fff"/>
<rect x="491" y="536" width="18" height="18" fill="#0082ff"/>
<rect x="509" y="536" width="18" height="18" fill="#008aff"/>
<rect x="527" y="536" width="18" height="18" fill="#008dff"/>
<rect x="545" y="536" width="19" height="18" fill="#0094ff"/>
<rect x="564" y="536" width="18" height="18" fill="#009fff"/>
<rect x="582" y="536" width="18" height="18" fill="#009dff"/>
<rect x="600" y="536" width="18" height="18" fill="#008fff"/>
<rect x="618" y="536" width="18" height="18" fill="#008eff"/>
<rect x="636" y="536" width="19" height="18" fill="#0094ff"/>
<rect x="655" y="536" width="18" height="18" fill="#0095ff"/>
<rect x="673" y="536" width="18" height="18" fill="#0096ff"/>
<rect x="691" y="536" width="18" height="18" fill="#0095ff"/>
<rect x="709" y="536" width="18" height="18" fill="#0093ff"/>
<rect x="727" y="536" width="18" height="18" fill="#0094ff"/>
<rect x="745" y="536" width="37" height="18" fill="#0096ff"/>
<rect x="782" y="536" width="18" height="18" fill="#0095ff"/>
<rect x="236" y="554" width="19" height="18" fill="#004eff"/>
<rect x="255" y="554" width="18" height="18" fill="#0045ff"/>
<rect x="273" y="554" width="18" height="18" fill="#0047ff"/>
<rect x="291" y="554" width="18" height="18" fill="#0052ff"/>
<rect x="309" y="554" width="18" height="18" fill="#0060ff"/>
<rect x="327" y="554" width="18" height="18" fill="#006cff"/>
<rect x="345" y="554" width="19" height="18" fill="#0070ff"/>
<rect x="364" y="554" width="18" height="18" fill="#006dff"/>
<rect x="382" y="554" width="18" height="18" fill="#0066ff"/>
<rect x="400" y="554" width="18" height="18" fill="#006dff"/>
<rect x="418" y="554" width="18" height="18" fill="#0071ff"/>
<rect x="436" y="554" width="19" height="18" fill="#0079ff"/>
<rect x="455" y="554" width="18" height="18" fill="#007eff"/>
<rect x="473" y="554" width="18" height="18" fill="#007fff"/>
<rect x="491" y="554" width="18" height="18" fill="#007eff"/>
<rect x="509" y="554" width="18" height="18" fill="#007fff"/>
<rect x="527" y="554" width="18" height="18" fill="#0080ff"/>
<rect x="545" y="554" width="19" height="18" fill="#0082ff"/>
<rect x="564" y="554" width="18" height="18" fill="#008aff"/>
<rect x="582" y="554" width="18" height="18" fill="#0088ff"/>
<rect x="600" y="554" width="18" height="18" fill="#0078ff"/>
<rect x="618" y="554" width="18" height="18" fill="#0073ff"/>
<rect x="636" y="554" width="55" height="18" fill="#0075ff"/>
<rect x="691" y="554" width="18" height="18" fill="#0076ff"/>
<rect x="709" y="554" width="18" height="18" fill="#0078ff"/>
<rect x="727" y="554" width="18" height="18" fill="#007dff"/>
<rect x="745" y="554" width="19" height="18" fill="#008cff"/>
<rect x="764" y="554" width="18" height="18" fill="#0092ff"/>
<rect x="782" y="554" width="18" height="18" fill="#0093ff"/>
<rect x="200" y="572" width="18" height="18" fill="#009bff"/>
<rect x="218" y="572" width="18" height="18" fill="#008eff"/>
<rect x="236" y="572" width="19" height="18" fill="#0079ff"/>
<rect x="255" y="572" width="18" height="18" fill="#006cff"/>
<rect x="273" y="572" width="18" height="18" fill="#0068ff"/>
<rect x="291" y="572" width="18" height="18" fill="#006aff"/>
<rect x="309" y="572" width="18" height="18" fill="#006dff"/>
<rect x="327" y="572" width="18" height="18" fill="#0071ff"/>
<rect x="345" y="572" width="19" height="18" fill="#0070ff"/>
<rect x="364" y="572" width="18" height="18" fill="#006dff"/>
<rect x="382" y="572" width="18" height="18" fill="#0067ff"/>
<rect x="400" y="572" width="18" height="18" fill="#006dff"/>
<rect x="418" y="572" width="18" height="18" fill="#0070ff"/>
<rect x="436" y="572" width="19" height="18" fill="#0074ff"/>
<rect x="455" y="572" width="18" height="18" fill="#007bff"/>
<rect x="473" y="572" width="18" height="18" fill="#007aff"/>
<rect x="491" y="572" width="18" height="18" fill="#0072ff"/>
<rect x="509" y="572" width="18" height="18" fill="#006fff"/>
<rect x="527" y="572" width="37" height="18" fill="#006dff"/>
<rect x="564" y="572" width="18" height="18" fill="#006eff"/>
<rect x="582" y="572" width="18" height="18" fill="#0069ff"/>
<rect x="600" y="572" width="18" height="18" fill="#005cff"/>
<rect x="618" y="572" width="73" height="18" fill="#0058ff"/>
<rect x="691" y="572" width="18" height="18" fill="#005cff"/>
<rect x="709" y="572" width="18" height="18" fill="#0063ff"/>
<rect x="727" y="572" width="18" height="18" fill="#006dff"/>
<rect x="745" y="572" width="19" height="18" fill="#0084ff"/>
<rect x="764" y="572" width="18" height="18" fill="#0092ff"/>
<rect x="782" y="572" width="18" height="18" fill="#0094ff"/>
<rect x="127" y="590" width="18" height="19" fill="#008dff"/>
<rect x="145" y="590" width="19" height="19" fill="#00a2ff"/>
<rect x="164" y="590" width="18" height="19" fill="#00b2ff"/>
<rect x="182" y="590" width="18" height="19" fill="#00bcff"/>
<rect x="200" y="590" width="18" height="19" fill="#00b7ff"/>
<rect x="218" y="590" width="18" height="19" fill="#00a7ff"/>
<rect x="236" y="590" width="19" height="19" fill="#0097ff"/>
<rect x="255" y="590" width="18" height="19" fill="#0087ff"/>
<rect x="273" y="590" width="18" height="19" fill="#007cff"/>
<rect x="291" y="590" width="36" height="19" fill="#0079ff"/>
<rect x="327" y="590" width="18" height="19" fill="#007aff"/>
<rect x="345" y="590" width="19" height="19" fill="#0074ff"/>
<rect x="364" y="590" width="18" height="19" fill="#0071ff"/>
<rect x="382" y="590" width="18" height="19" fill="#006eff"/>
<rect x="400" y="590" width="18" height="19" fill="#006fff"/>
<rect x="418" y="590" width="37" height="19" fill="#0070ff"/>
<rect x="455" y="590" width="18" height="19" fill="#0071ff"/>
<rect x="473" y="590" width="18" height="19" fill="#006eff"/>
<rect x="491" y="590" width="18" height="19" fill="#0064ff"/>
<rect x="509" y="590" width="18" height="19" fill="#005eff"/>
<rect x="527" y="590" width="18" height="19" fill="#0058ff"/>
<rect x="545" y="590" width="19" height="19" fill="#0055ff"/>
<rect x="564" y="590" width="18" height="19" fill="#0051ff"/>
<rect x="582" y="590" width="18" height="19" fill="#0049ff"/>
<rect x="600" y="590" width="18" height="19" fill="#0042ff"/>
<rect x="618" y="590" width="18" height="19" fill="#0041ff"/>
<rect x="636" y="590" width="19" height="19" fill="#0042ff"/>
<rect x="655" y="590" width="18" height="19" fill="#0043ff"/>
<rect x="673" y="590" width="18" height="19" fill="#0046ff"/>
<rect x="691" y="590" width="18" height="19" fill="#004dff"/>
<rect x="709" y="590" width="18" height="19" fill="#0053ff"/>
<rect x="727" y="590" width="18" height="19" fill="#0063ff"/>
<rect x="745" y="590" width="19" height="19" fill="#0083ff"/>
<rect x="764" y="590" width="18" height="19" fill="#0094ff"/>
<rect x="782" y="590" width="18" height="19" fill="#0097ff"/>
<rect x="18" y="609" width="18" height="18" fill="#008dff"/>
<rect x="36" y="609" width="19" height="18" fill="#0070ff"/>
<rect x="55" y="609" width="18" height="18" fill="#004dff"/>
<rect x="73" y="609" width="18" height="18" fill="#0032ff"/>
<rect x="91" y="609" width="18" height="18" fill="#0030ff"/>
<rect x="109" y="609" width="18" height="18" fill="#004bff"/>
<rect x="127" y="609" width="18" height="18" fill="#0080ff"/>
<rect x="145" y="609" width="19" height="18" fill="#00a6ff"/>
<rect x="164" y="609" width="18" height="18" fill="#00b8ff"/>
<rect x="182" y="609" width="18" height="18" fill="#00c1ff"/>
<rect x="200" y="609" width="18" height="18" fill="#00c5ff"/>
<rect x="218" y="609" width="18" height="18" fill="#00b4ff"/>
<rect x="236" y="609" width="19" height="18" fill="#00a2ff"/>
<rect x="255" y="609" width="18" height="18" fill="#0092ff"/>
<rect x="273" y="609" width="18" height="18" fill="#0084ff"/>
<rect x="291" y="609" width="18" height="18" fill="#007eff"/>
<rect x="309" y="609" width="18" height="18" fill="#0078ff"/>
<rect x="327" y="609" width="18" height="18" fill="#007bff"/>
<rect x="345" y="609" width="19" height="18" fill="#007aff"/>
<rect x="364" y="609" width="18" height="18" fill="#0078ff"/>
<rect x="382" y="609" width="18" height="18" fill="#0071ff"/>
<rect x="400" y="609" width="36" height="18" fill="#0070ff"/>
<rect x="436" y="609" width="19" height="18" fill="#0072ff"/>
<rect x="455" y="609" width="18" height="18" fill="#0071ff"/>
<rect x="473" y="609" width="18" height="18" fill="#006bff"/>
<rect x="491" y="609" width="18" height="18" fill="#0065ff"/>
<rect x="509" y="609" width="18" height="18" fill="#005cff"/>
<rect x="527" y="609" width="18" height="18" fill="#0057ff"/>
<rect x="545" y="609" width="19" height="18" fill="#0053ff"/>
<rect x="564" y="609" width="18" height="18" fill="#004bff"/>
<rect x="582" y="609" width="18" height="18" fill="#0043ff"/>
<rect x="600" y="609" width="18" height="18" fill="#003cff"/>
<rect x="618" y="609" width="18" height="18" fill="#003bff"/>
<rect x="636" y="609" width="19" height="18" fill="#0040ff"/>
<rect x="655" y="609" width="18" height="18" fill="#0047ff"/>
<rect x="673" y="609" width="18" height="18" fill="#0049ff"/>
<rect x="691" y="609" width="18" height="18" fill="#0048ff"/>
<rect x="709" y="609" width="18" height="18" fill="#0049ff"/>
<rect x="727" y="609" width="18" height="18" fill="#0058ff"/>
<rect x="745" y="609" width="19" height="18" fill="#0077ff"/>
<rect x="764" y="609" width="18" height="18" fill="#0089ff"/>
<rect x="782" y="609" width="18" height="18" fill="#008dff"/>
<rect x="0" y="627" width="18" height="18" fill="#00a1ff"/>
<rect x="18" y="627" width="18" height="18" fill="#0090ff"/>
<rect x="36" y="627" width="19" height="18" fill="#006dff"/>
<rect x="55" y="627" width="18" height="18" fill="#0045ff"/>
<rect x="73" y="627" width="18" height="18" fill="#0029ff"/>
<rect x="91" y="627" width="18" height="18" fill="#002bff"/>
<rect x="109" y="627" width="18" height="18" fill="#004bff"/>
<rect x="127" y="627" width="18" height="18" fill="#007eff"/>
<rect x="145" y="627" width="19" height="18" fill="#00a1ff"/>
<rect x="164" y="627" width="18" height="18" fill="#00b4ff"/>
<rect x="182" y="627" width="18" height="18" fill="#00c0ff"/>
<rect x="200" y="627" width="18" height="18" fill="#00c9ff"/>
<rect x="218" y="627" width="18" height="18" fill="#00bdff"/>
<rect x="236" y="627" width="19" height="18" fill="#00acff"/>
<rect x="255" y="627" width="18" height="18" fill="#009cff"/>
<rect x="273" y="627" width="18" height="18" fill="#008dff"/>
<rect x="291" y="627" width="18" height="18" fill="#0081ff"/>
<rect x="309" y="627" width="18" height="18" fill="#007bff"/>
<rect x="327" y="627" width="18" height="18" fill="#0074ff"/>
<rect x="345" y="627" width="19" height="18" fill="#0073ff"/>
<rect x="364" y="627" width="18" height="18" fill="#0072ff"/>
<rect x="382" y="627" width="36" height="18" fill="#0070ff"/>
<rect x="418" y="627" width="18" height="18" fill="#0072ff"/>
<rect x="436" y="627" width="19" height="18" fill="#007aff"/>
<rect x="455" y="627" width="18" height="18" fill="#007dff"/>
<rect x="473" y="627" width="18" height="18" fill="#007eff"/>
<rect x="491" y="627" width="18" height="18" fill="#007cff"/>
<rect x="509" y="627" width="18" height="18" fill="#0074ff"/>
<rect x="527" y="627" width="18" height="18" fill="#006dff"/>
<rect x="545" y="627" width="19" height="18" fill="#0066ff"/>
<rect x="564" y="627" width="18" height="18" fill="#0061ff"/>
<rect x="582" y="627" width="18" height="18" fill="#0059ff"/>
<rect x="600" y="627" width="18" height="18" fill="#0055ff"/>
<rect x="618" y="627" width="18" height="18" fill="#0058ff"/>
<rect x="636" y="627" width="19" height="18" fill="#0064ff"/>
<rect x="655" y="627" width="18" height="18" fill="#0069ff"/>
<rect x="673" y="627" width="18" height="18" fill="#0066ff"/>
<rect x="691" y="627" width="18" height="18" fill="#005aff"/>
<rect x="709" y="627" width="18" height="18" fill="#0050ff"/>
<rect x="727" y="627" width="18" height="18" fill="#0054ff"/>
<rect x="745" y="627" width="19" height="18" fill="#006aff"/>
<rect x="764" y="627" width="18" height="18" fill="#007bff"/>
<rect x="782" y="627" width="18" height="18" fill="#0080ff"/>
<rect x="0" y="645" width="18" height="18" fill="#0082ff"/>
<rect x="18" y="645" width="18" height="18" fill="#007aff"/>
<rect x="36" y="645" width="19" height="18" fill="#0060ff"/>
<rect x="55" y="645" width="18" height="18" fill="#0040ff"/>
<rect x="73" y="645" width="18" height="18" fill="#002cff"/>
<rect x="91" y="645" width="18" height="18" fill="#003bff"/>
<rect x="109" y="645" width="18" height="18" fill="#0063ff"/>
<rect x="127" y="645" width="18" height="18" fill="#008dff"/>
<rect x="145" y="645" width="19" height="18" fill="#00a6ff"/>
<rect x="164" y="645" width="18" height="18" fill="#00b5ff"/>
<rect x="182" y="645" width="18" height="18" fill="#00c2ff"/>
<rect x="200" y="645" width="18" height="18" fill="#00caff"/>
<rect x="218" y="645" width="18" height="18" fill="#00bfff"/>
<rect x="236" y="645" width="19" height="18" fill="#00afff"/>
<rect x="255" y="645" width="18" height="18" fill="#009fff"/>
<rect x="273" y="645" width="18" height="18" fill="#008fff"/>
<rect x="291" y="645" width="18" height="18" fill="#0082ff"/>
<rect x="309" y="645" width="18" height="18" fill="#007dff"/>
<rect x="327" y="645" width="18" height="18" fill="#0074ff"/>
<rect x="345" y="645" width="73" height="18" fill="#0070ff"/>
<rect x="418" y="645" width="18" height="18" fill="#0072ff"/>
<rect x="436" y="645" width="19" height="18" fill="#007bff"/>
<rect x="455" y="645" width="18" height="18" fill="#0080ff"/>
<rect x="473" y="645" width="36" height="18" fill="#0085ff"/>
<rect x="509" y="645" width="18" height="18" fill="#0082ff"/>
<rect x="527" y="645" width="18" height="18" fill="#007aff"/>
<rect x="545" y="645" width="19" height="18" fill="#0076ff"/>
<rect x="564" y="645" width="18" height="18" fill="#0075ff"/>
<rect x="582" y="645" width="18" height="18" fill="#0074ff"/>
<rect x="600" y="645" width="73" height="18" fill="#0073ff"/>
<rect x="673" y="645" width="18" height="18" fill="#006fff"/>
<rect x="691" y="645" width="18" height="18" fill="#0060ff"/>
<rect x="709" y="645" width="18" height="18" fill="#0052ff"/>
<rect x="727" y="645" width="18" height="18" fill="#0050ff"/>
<rect x="745" y="645" width="19" height="18" fill="#005fff"/>
<rect x="764" y="645" width="18" height="18" fill="#0070ff"/>
<rect x="782" y="645" width="18" height="18" fill="#0077ff"/>
<rect x="0" y="663" width="18" height="18" fill="#005dff"/>
<rect x="18" y="663" width="18" height="18" fill="#005aff"/>
<rect x="36" y="663" width="19" height="18" fill="#004fff"/>
<rect x="55" y="663" width="18" height="18" fill="#0040ff"/>
<rect x="73" y="663" width="18" height="18" fill="#003eff"/>
<rect x="91" y="663" width="18" height="18" fill="#0060ff"/>
<rect x="109" y="663" width="18" height="18" fill="#008aff"/>
<rect x="127" y="663" width="18" height="18" fill="#00a9ff"/>
<rect x="145" y="663" width="19" height="18" fill="#00b8ff"/>
<rect x="164" y="663" width="18" height="18" fill="#00c1ff"/>
<rect x="182" y="663" width="18" height="18" fill="#00caff"/>
<rect x="200" y="663" width="18" height="18" fill="#00ccff"/>
<rect x="218" y="663" width="18" height="18" fill="#00bfff"/>
<rect x="236" y="663" width="19" height="18" fill="#00afff"/>
<rect x="255" y="663" width="18" height="18" fill="#009fff"/>
<rect x="273" y="663" width="18" height="18" fill="#008fff"/>
<rect x="291" y="663" width="18" height="18" fill="#0082ff"/>
<rect x="309" y="663" width="18" height="18" fill="#007fff"/>
<rect x="327" y="663" width="18" height="18" fill="#007bff"/>
<rect x="345" y="663" width="19" height="18" fill="#0074ff"/>
<rect x="364" y="663" width="72" height="18" fill="#0070ff"/>
<rect x="436" y="663" width="19" height="18" fill="#0074ff"/>
<rect x="455" y="663" width="18" height="18" fill="#007cff"/>
<rect x="473" y="663" width="18" height="18" fill="#0084ff"/>
<rect x="491" y="663" width="18" height="18" fill="#0086ff"/>
<rect x="509" y="663" width="18" height="18" fill="#0085ff"/>
<rect x="527" y="663" width="91" height="18" fill="#0083ff"/>
<rect x="618" y="663" width="18" height="18" fill="#0080ff"/>
<rect x="636" y="663" width="19" height="18" fill="#0075ff"/>
<rect x="655" y="663" width="18" height="18" fill="#0072ff"/>
<rect x="673" y="663" width="18" height="18" fill="#006dff"/>
<rect x="691" y="663" width="18" height="18" fill="#005eff"/>
<rect x="709" y="663" width="18" height="18" fill="#004eff"/>
<rect x="727" y="663" width="18" height="18" fill="#0049ff"/>
<rect x="745" y="663" width="19" height="18" fill="#0052ff"/>
<rect x="764" y="663" width="18" height="18" fill="#0061ff"/>
<rect x="782" y="663" width="18" height="18" fill="#0069ff"/>
<rect x="0" y="681" width="18" height="19" fill="#0048ff"/>
<rect x="18" y="681" width="18" height="19" fill="#004aff"/>
<rect x="36" y="681" width="19" height="19" fill="#004fff"/>
<rect x="55" y="681" width="18" height="19" fill="#0051ff"/>
<rect x="73" y="681" width="18" height="19" fill="#0060ff"/>
<rect x="91" y="681" width="18" height="19" fill="#0089ff"/>
<rect x="109" y="681" width="18" height="19" fill="#00a9ff"/>
<rect x="127" y="681" width="18" height="19" fill="#00baff"/>
<rect x="145" y="681" width="19" height="19" fill="#00c3ff"/>
<rect x="164" y="681" width="18" height="19" fill="#00cbff"/>
<rect x="182" y="681" width="18" height="19" fill="#00cfff"/>
<rect x="200" y="681" width="18" height="19" fill="#00ccff"/>
<rect x="218" y="681" width="18" height="19" fill="#00bfff"/>
<rect x="236" y="681" width="19" height="19" fill="#00afff"/>
<rect x="255" y="681" width="18" height="19" fill="#00a0ff"/>
<rect x="273" y="681" width="18" height="19" fill="#0092ff"/>
<rect x="291" y="681" width="18" height="19" fill="#0086ff"/>
<rect x="309" y="681" width="18" height="19" fill="#0082ff"/>
<rect x="327" y="681" width="18" height="19" fill="#0080ff"/>
<rect x="345" y="681" width="19" height="19" fill="#007cff"/>
<rect x="364" y="681" width="18" height="19" fill="#0074ff"/>
<rect x="382" y="681" width="54" height="19" fill="#0070ff"/>
<rect x="436" y="681" width="19" height="19" fill="#0071ff"/>
<rect x="455" y="681" width="18" height="19" fill="#0078ff"/>
<rect x="473" y="681" width="18" height="19" fill="#0082ff"/>
<rect x="491" y="681" width="18" height="19" fill="#0085ff"/>
<rect x="509" y="681" width="18" height="19" fill="#0087ff"/>
<rect x="527" y="681" width="91" height="19" fill="#0088ff"/>
<rect x="618" y="681" width="18" height="19" fill="#0084ff"/>
<rect x="636" y="681" width="19" height="19" fill="#0079ff"/>
<rect x="655" y="681" width="18" height="19" fill="#0074ff"/>
<rect x="673" y="681" width="18" height="19" fill="#006fff"/>
<rect x="691" y="681" width="18" height="19" fill="#0063ff"/>
<rect x="709" y="681" width="18" height="19" fill="#0052ff"/>
<rect x="727" y="681" width="18" height="19" fill="#0045ff"/>
<rect x="745" y="681" width="19" height="19" fill="#0044ff"/>
<rect x="764" y="681" width="18" height="19" fill="#0049ff"/>
<rect x="782" y="681" width="18" height="19" fill="#0052ff"/>
<rect x="0" y="700" width="18" height="18" fill="#0077ff"/>
<rect x="18" y="700" width="18" height="18" fill="#007bff"/>
<rect x="36" y="700" width="19" height="18" fill="#0085ff"/>
<rect x="55" y="700" width="18" height="18" fill="#008bff"/>
<rect x="73" y="700" width="18" height="18" fill="#0098ff"/>
<rect x="91" y="700" width="18" height="18" fill="#00acff"/>
<rect x="109" y="700" width="18" height="18" fill="#00bcff"/>
<rect x="127" y="700" width="18" height="18" fill="#00c4ff"/>
<rect x="145" y="700" width="19" height="18" fill="#00cbff"/>
<rect x="164" y="700" width="36" height="18" fill="#00cfff"/>
<rect x="200" y="700" width="18" height="18" fill="#00ccff"/>
<rect x="218" y="700" width="18" height="18" fill="#00bfff"/>
<rect x="236" y="700" width="19" height="18" fill="#00b0ff"/>
<rect x="255" y="700" width="18" height="18" fill="#00a4ff"/>
<rect x="273" y="700" width="18" height="18" fill="#009bff"/>
<rect x="291" y="700" width="18" height="18" fill="#0090ff"/>
<rect x="309" y="700" width="18" height="18" fill="#008cff"/>
<rect x="327" y="700" width="18" height="18" fill="#0085ff"/>
<rect x="345" y="700" width="19" height="18" fill="#0081ff"/>
<rect x="364" y="700" width="18" height="18" fill="#007cff"/>
<rect x="382" y="700" width="18" height="18" fill="#0075ff"/>
<rect x="400" y="700" width="36" height="18" fill="#0071ff"/>
<rect x="436" y="700" width="19" height="18" fill="#0075ff"/>
<rect x="455" y="700" width="18" height="18" fill="#007dff"/>
<rect x="473" y="700" width="18" height="18" fill="#0083ff"/>
<rect x="491" y="700" width="18" height="18" fill="#0086ff"/>
<rect x="509" y="700" width="18" height="18" fill="#008cff"/>
<rect x="527" y="700" width="73" height="18" fill="#008eff"/>
<rect x="600" y="700" width="18" height="18" fill="#0090ff"/>
<rect x="618" y="700" width="18" height="18" fill="#008fff"/>
<rect x="636" y="700" width="19" height="18" fill="#008cff"/>
<rect x="655" y="700" width="18" height="18" fill="#008aff"/>
<rect x="673" y="700" width="18" height="18" fill="#0089ff"/>
<rect x="691" y="700" width="18" height="18" fill="#0084ff"/>
<rect x="709" y="700" width="18" height="18" fill="#0074ff"/>
<rect x="727" y="700" width="18" height="18" fill="#005cff"/>
<rect x="745" y="700" width="19" height="18" fill="#0045ff"/>
<rect x="764" y="700" width="36" height="18" fill="#0036ff"/>
<rect x="0" y="718" width="18" height="18" fill="#00a2ff"/>
<rect x="18" y="718" width="18" height="18" fill="#00a8ff"/>
<rect x="36" y="718" width="19" height="18" fill="#00aeff"/>
<rect x="55" y="718" width="18" height="18" fill="#00b7ff"/>
<rect x="73" y="718" width="18" height="18" fill="#00bcff"/>
<rect x="91" y="718" width="18" height="18" fill="#00c2ff"/>
<rect x="109" y="718" width="18" height="18" fill="#00ccff"/>
<rect x="127" y="718" width="18" height="18" fill="#00d0ff"/>
<rect x="145" y="718" width="37" height="18" fill="#00d2ff"/>
<rect x="182" y="718" width="18" height="18" fill="#00d0ff"/>
<rect x="200" y="718" width="18" height="18" fill="#00ccff"/>
<rect x="218" y="718" width="18" height="18" fill="#00c0ff"/>
<rect x="236" y="718" width="19" height="18" fill="#00b4ff"/>
<rect x="255" y="718" width="18" height="18" fill="#00acff"/>
<rect x="273" y="718" width="18" height="18" fill="#00a1ff"/>
<rect x="291" y="718" width="18" height="18" fill="#0096ff"/>
<rect x="309" y="718" width="18" height="18" fill="#0093ff"/>
<rect x="327" y="718" width="18" height="18" fill="#008fff"/>
<rect x="345" y="718" width="19" height="18" fill="#0087ff"/>
<rect x="364" y="718" width="18" height="18" fill="#0084ff"/>
<rect x="382" y="718" width="18" height="18" fill="#007fff"/>
<rect x="400" y="718" width="36" height="18" fill="#0077ff"/>
<rect x="436" y="718" width="19" height="18" fill="#007fff"/>
<rect x="455" y="718" width="18" height="18" fill="#0085ff"/>
<rect x="473" y="718" width="18" height="18" fill="#008bff"/>
<rect x="491" y="718" width="18" height="18" fill="#008dff"/>
<rect x="509" y="718" width="18" height="18" fill="#008fff"/>
<rect x="527" y="718" width="18" height="18" fill="#0090ff"/>
<rect x="545" y="718" width="37" height="18" fill="#0092ff"/>
<rect x="582" y="718" width="18" height="18" fill="#0094ff"/>
<rect x="600" y="718" width="18" height="18" fill="#009bff"/>
<rect x="618" y="718" width="73" height="18" fill="#009cff"/>
<rect x="691" y="718" width="18" height="18" fill="#009bff"/>
<rect x="709" y="718" width="18" height="18" fill="#0094ff"/>
<rect x="727" y="718" width="18" height="18" fill="#007dff"/>
<rect x="745" y="718" width="19" height="18" fill="#005fff"/>
<rect x="764" y="718" width="18" height="18" fill="#0047ff"/>
<rect x="782" y="718" width="18" height="18" fill="#003eff"/>
<rect x="0" y="736" width="18" height="18" fill="#00c0ff"/>
<rect x="18" y="736" width="18" height="18" fill="#00c2ff"/>
<rect x="36" y="736" width="19" height="18" fill="#00c5ff"/>
<rect x="55" y="736" width="18" height="18" fill="#00cfff"/>
<rect x="73" y="736" width="18" height="18" fill="#00d2ff"/>
<rect x="91" y="736" width="18" height="18" fill="#00d5ff"/>
<rect x="109" y="736" width="18" height="18" fill="#00ddff"/>
<rect x="127" y="736" width="18" height="18" fill="#00dfff"/>
<rect x="145" y="736" width="19" height="18" fill="#00ddff"/>
<rect x="164" y="736" width="18" height="18" fill="#00daff"/>
<rect x="182" y="736" width="18" height="18" fill="#00d4ff"/>
<rect x="200" y="736" width="18" height="18" fill="#00cfff"/>
<rect x="218" y="736" width="18" height="18" fill="#00c4ff"/>
<rect x="236" y="736" width="19" height="18" fill="#00bcff"/>
<rect x="255" y="736" width="18" height="18" fill="#00b3ff"/>
<rect x="273" y="736" width="18" height="18" fill="#00abff"/>
<rect x="291" y="736" width="18" height="18" fill="#00a2ff"/>
<rect x="309" y="736" width="18" height="18" fill="#00a1ff"/>
<rect x="327" y="736" width="18" height="18" fill="#009eff"/>
<rect x="345" y="736" width="19" height="18" fill="#0094ff"/>
<rect x="364" y="736" width="18" height="18" fill="#0091ff"/>
<rect x="382" y="736" width="18" height="18" fill="#008fff"/>
<rect x="400" y="736" width="36" height="18" fill="#0087ff"/>
<rect x="436" y="736" width="19" height="18" fill="#008fff"/>
<rect x="455" y="736" width="18" height="18" fill="#0091ff"/>
<rect x="473" y="736" width="18" height="18" fill="#0093ff"/>
<rect x="491" y="736" width="36" height="18" fill="#0095ff"/>
<rect x="527" y="736" width="18" height="18" fill="#0097ff"/>
<rect x="545" y="736" width="19" height="18" fill="#009eff"/>
<rect x="564" y="736" width="18" height="18" fill="#009fff"/>
<rect x="582" y="736" width="18" height="18" fill="#00a0ff"/>
<rect x="600" y="736" width="36" height="18" fill="#00a2ff"/>
<rect x="636" y="736" width="73" height="18" fill="#00a1ff"/>
<rect x="709" y="736" width="18" height="18" fill="#00a0ff"/>
<rect x="727" y="736" width="18" height="18" fill="#0099ff"/>
<rect x="745" y="736" width="19" height="18" fill="#0089ff"/>
<rect x="764" y="736" width="18" height="18" fill="#0079ff"/>
<rect x="782" y="736" width="18" height="18" fill="#006fff"/>
<rect x="0" y="754" width="36" height="18" fill="#00d8ff"/>
<rect x="36" y="754" width="19" height="18" fill="#00dbff"/>
<rect x="55" y="754" width="18" height="18" fill="#00e5ff"/>
<rect x="73" y="754" width="36" height="18" fill="#00e8ff"/>
<rect x="109" y="754" width="18" height="18" fill="#00ebff"/>
<rect x="127" y="754" width="18" height="18" fill="#00e9ff"/>
<rect x="145" y="754" width="19" height="18" fill="#00e1ff"/>
<rect x="164" y="754" width="18" height="18" fill="#00deff"/>
<rect x="182" y="754" width="18" height="18" fill="#00dcff"/>
<rect x="200" y="754" width="18" height="18" fill="#00d8ff"/>
<rect x="218" y="754" width="18" height="18" fill="#00ccff"/>
<rect x="236" y="754" width="19" height="18" fill="#00c1ff"/>
<rect x="255" y="754" width="18" height="18" fill="#00baff"/>
<rect x="273" y="754" width="18" height="18" fill="#00b1ff"/>
<rect x="291" y="754" width="36" height="18" fill="#00adff"/>
<rect x="327" y="754" width="18" height="18" fill="#00aaff"/>
<rect x="345" y="754" width="19" height="18" fill="#00a0ff"/>
<rect x="364" y="754" width="36" height="18" fill="#009dff"/>
<rect x="400" y="754" width="36" height="18" fill="#009aff"/>
<rect x="436" y="754" width="37" height="18" fill="#009dff"/>
<rect x="473" y="754" width="18" height="18" fill="#009eff"/>
<rect x="491" y="754" width="18" height="18" fill="#00a6ff"/>
<rect x="509" y="754" width="18" height="18" fill="#00a8ff"/>
<rect x="527" y="754" width="18" height="18" fill="#00a9ff"/>
<rect x="545" y="754" width="19" height="18" fill="#00abff"/>
<rect x="564" y="754" width="54" height="18" fill="#00acff"/>
<rect x="618" y="754" width="18" height="18" fill="#00abff"/>
<rect x="636" y="754" width="19" height="18" fill="#00a8ff"/>
<rect x="655" y="754" width="72" height="18" fill="#00a7ff"/>
<rect x="727" y="754" width="18" height="18" fill="#00a5ff"/>
<rect x="745" y="754" width="19" height="18" fill="#009dff"/>
<rect x="764" y="754" width="18" height="18" fill="#0098ff"/>
<rect x="782" y="754" width="18" height="18" fill="#0095ff"/>
</g>
<clipPath id="pc"><rect x="0" y="28" width="800" height="744.5"/></clipPath>
<path clip-path="url(#pc)" d="M718.2 35.9L705.1 20.8M707.6 29.6L705.1 20.8L713.5 24.5M772.7 35.9L758.8 18.1M761.1 28.2L758.8 18.1L768.1 22.8M790.9 35.9L775.8 16.6M778.4 27.6L775.8 16.6L785.9 21.7M700.0 54.1L686.2 38.7M689.0 47.8L686.2 38.7L694.9 42.4M718.2 54.1L704.6 38.6M707.2 47.7L704.6 38.6L713.3 42.4M754.5 54.1L739.7 36.2M742.4 46.5L739.7 36.2L749.3 40.7M772.7 54.1L757.5 35.3M760.2 46.1L757.5 35.3L767.5 40.2M790.9 54.1L774.8 34.1M777.6 45.6L774.8 34.1L785.4 39.3M681.8 72.3L666.8 56.2M669.9 65.8L666.8 56.2L676.2 59.9M700.0 72.3L685.0 55.6M688.1 65.5L685.0 55.6L694.5 59.7M718.2 72.3L703.1 55.3M706.1 65.3L703.1 55.3L712.7 59.4M736.4 72.3L720.7 54.2M723.7 64.8L720.7 54.2L730.7 58.7M754.5 72.3L738.4 53.3M741.4 64.4L738.4 53.3L748.8 58.1M772.7 72.3L756.0 52.3M759.1 63.9L756.0 52.3L766.8 57.4M790.9 72.3L773.5 51.5M776.7 63.5L773.5 51.5L784.8 56.7M663.6 90.4L651.6 79.0M654.4 86.1L651.6 79.0L658.8 81.4M681.8 90.4L666.3 75.4M669.9 84.7L666.3 75.4L675.7 78.6M700.0 90.4L683.4 73.8M687.1 84.0L683.4 73.8L693.5 77.5M718.2 90.4L701.0 73.1M704.8 83.7L701.0 73.1L711.5 77.0M736.4 90.4L718.8 72.5M722.6 83.4L718.8 72.5L729.6 76.6M754.5 90.4L736.4 71.8M740.3 83.1L736.4 71.8L747.6 76.0M772.7 90.4L753.8 70.8M757.9 82.7L753.8 70.8L765.5 75.3M790.9 90.4L771.3 70.1M775.5 82.4L771.3 70.1L783.4 74.8M681.8 108.6L665.0 93.8M669.1 103.2L665.0 93.8L674.9 96.7M700.0 108.6L682.4 92.7M686.6 102.8L682.4 92.7L692.8 95.9M718.2 108.6L699.7 91.9M704.1 102.5L699.7 91.9L710.6 95.3M736.4 108.6L717.2 91.4M721.9 102.3L717.2 91.4L728.6 94.9M754.5 108.6L734.9 91.0M739.7 102.1L734.9 91.0L746.5 94.5M772.7 108.6L752.3 90.2M757.2 101.9L752.3 90.2L764.4 93.9M790.9 108.6L769.8 89.6M774.9 101.6L769.8 89.6L782.3 93.4M663.6 126.8L646.4 112.6M650.8 121.9L646.4 112.6L656.3 115.1M681.8 126.8L664.3 112.3M668.8 121.7L664.3 112.3L674.4 114.9M700.0 126.8L681.8 111.6M686.4 121.4L681.8 111.6L692.4 114.4M718.2 126.8L699.3 110.9M704.1 121.2L699.3 110.9L710.2 113.9M736.4 126.8L717.0 110.5M721.9 121.1L717.0 110.5L728.2 113.5M754.5 126.8L734.4 109.9M739.5 120.9L734.4 109.9L746.1 113.1M772.7 126.8L751.8 109.2M757.1 120.6L751.8 109.2L763.9 112.5M790.9 126.8L769.3 108.7M774.8 120.4L769.3 108.7L781.8 112.0M645.5 145.0L629.3 132.8M633.7 141.0L629.3 132.8L638.4 134.7M663.6 145.0L646.7 131.7M651.2 140.5L646.7 131.7L656.3 133.9M681.8 145.0L664.3 131.3M669.0 140.4L664.3 131.3L674.3 133.6M700.0 145.0L681.9 130.8M686.7 140.2L681.9 130.8L692.2 133.2M718.2 145.0L699.6 130.4M704.5 140.1L699.6 130.4L710.2 132.9M736.4 145.0L717.1 129.9M722.2 139.9L717.1 129.9L728.0 132.4M754.5 145.0L734.5 129.3M739.8 139.7L734.5 129.3L745.9 131.9M772.7 145.0L752.1 128.9M757.6 139.6L752.1 128.9L763.8 131.6M790.9 145.0L769.7 128.4M775.3 139.4L769.7 128.4L781.7 131.2M645.5 163.2L630.3 152.7M634.6 160.0L630.3 152.7L638.6 154.1M663.6 163.2L647.8 152.0M652.2 159.8L647.8 152.0L656.5 153.6M681.8 163.2L665.4 151.7M670.0 159.6L665.4 151.7L674.5 153.3M700.0 163.2L683.0 151.2M687.7 159.5L683.0 151.2L692.4 152.9M718.2 163.2L700.6 150.8M705.5 159.4L700.6 150.8L710.3 152.5M736.4 163.2L718.0 150.3M723.2 159.2L718.0 150.3L728.2 152.1M754.5 163.2L735.5 149.8M740.8 159.1L735.5 149.8L746.0 151.7M772.7 163.2L752.9 149.3M758.5 158.9L752.9 149.3L763.9 151.2M790.9 163.2L770.5 148.8M776.2 158.8L770.5 148.8L781.8 150.8M627.3 181.3L614.4 173.3M618.2 179.1L614.4 173.3L621.3 174.1M645.5 181.3L631.3 172.5M635.5 178.9L631.3 172.5L638.9 173.4M663.6 181.3L648.7 172.0M653.1 178.8L648.7 172.0L656.7 173.0M681.8 181.3L666.2 171.6M670.8 178.7L666.2 171.6L674.6 172.6M700.0 181.3L683.7 171.2M688.5 178.6L683.7 171.2L692.5 172.3M718.2 181.3L701.3 170.8M706.3 178.5L701.3 170.8L710.4 171.9M736.4 181.3L718.5 170.2M723.8 178.3L718.5 170.2L728.1 171.4M754.5 181.3L735.8 169.6M741.3 178.2L735.8 169.6L745.9 170.9M772.7 181.3L753.3 169.2M759.0 178.0L753.3 169.2L763.7 170.5M790.9 181.3L770.9 168.9M776.8 177.9L770.9 168.9L781.7 170.2M609.1 199.5L596.7 192.0M600.4 197.5L596.7 192.0L603.4 192.7M627.3 199.5L614.4 191.6M618.2 197.4L614.4 191.6L621.3 192.4M645.5 199.5L631.9 191.2M635.9 197.3L631.9 191.2L639.1 192.0M663.6 199.5L649.4 190.8M653.7 197.2L649.4 190.8L657.0 191.7M681.8 199.5L667.1 190.5M671.5 197.1L667.1 190.5L675.0 191.4M700.0 199.5L684.7 190.2M689.3 197.0L684.7 190.2L692.9 191.1M718.2 199.5L702.3 189.8M707.0 196.9L702.3 189.8L710.8 190.7M736.4 199.5L719.4 189.1M724.5 196.8L719.4 189.1L728.5 190.2M754.5 199.5L736.7 188.6M742.0 196.6L736.7 188.6L746.3 189.7M772.7 199.5L754.1 188.1M759.7 196.5L754.1 188.1L764.1 189.3M790.9 199.5L771.8 187.8M777.5 196.4L771.8 187.8L782.1 189.0M590.9 217.7L579.6 210.9M583.0 215.9L579.6 210.9L585.6 211.6M609.1 217.7L597.1 210.5M600.7 215.8L597.1 210.5L603.5 211.2M627.3 217.7L614.6 210.1M618.4 215.7L614.6 210.1L621.4 210.8M645.5 217.7L632.4 209.8M636.3 215.7L632.4 209.8L639.3 210.6M663.6 217.7L650.2 209.6M654.2 215.6L650.2 209.6L657.4 210.4M681.8 217.7L668.0 209.4M672.1 215.6L668.0 209.4L675.4 210.2M700.0 217.7L685.7 209.1M690.0 215.5L685.7 209.1L693.3 209.9M718.2 217.7L703.3 208.8M707.8 215.4L703.3 208.8L711.2 209.6M736.4 217.7L720.6 208.2M725.3 215.3L720.6 208.2L729.0 209.1M754.5 217.7L737.9 207.7M742.9 215.1L737.9 207.7L746.8 208.6M772.7 217.7L755.2 207.2M760.5 215.0L755.2 207.2L764.6 208.2M790.9 217.7L772.9 206.9M778.3 214.9L772.9 206.9L782.5 207.9M572.7 235.9L563.1 229.7M565.9 234.1L563.1 229.7L568.3 230.4M590.9 235.9L580.1 229.1M583.3 234.0L580.1 229.1L585.9 229.8M609.1 235.9L597.5 228.7M600.9 233.9L597.5 228.7L603.8 229.4M627.3 235.9L615.2 228.3M618.8 233.8L615.2 228.3L621.7 229.1M645.5 235.9L633.1 228.2M636.8 233.8L633.1 228.2L639.8 229.0M663.6 235.9L651.1 228.1M654.8 233.8L651.1 228.1L657.9 228.9M681.8 235.9L669.0 227.9M672.8 233.7L669.0 227.9L675.9 228.7M700.0 235.9L686.8 227.6M690.7 233.6L686.8 227.6L693.9 228.5M718.2 235.9L704.6 227.4M708.6 233.6L704.6 227.4L711.9 228.3M736.4 235.9L722.2 227.0M726.4 233.5L722.2 227.0L729.8 228.0M754.5 235.9L739.5 226.5M744.0 233.3L739.5 226.5L747.6 227.5M772.7 235.9L756.9 226.0M761.6 233.2L756.9 226.0L765.4 227.1M790.9 235.9L774.5 225.6M779.3 233.1L774.5 225.6L783.3 226.7M554.5 254.1L547.1 249.0M549.2 252.6L547.1 249.0L551.2 249.7M572.7 254.1L563.7 248.1M566.3 252.4L563.7 248.1L568.6 248.9M590.9 254.1L580.7 247.4M583.7 252.2L580.7 247.4L586.2 248.2M609.1 254.1L598.3 247.1M601.4 252.1L598.3 247.1L604.2 247.9M627.3 254.1L616.2 246.9M619.4 252.0L616.2 246.9L622.2 247.7M645.5 254.1L634.3 246.8M637.5 252.0L634.3 246.8L640.3 247.7M663.6 254.1L652.2 246.6M655.5 252.0L652.2 246.6L658.4 247.5M681.8 254.1L670.1 246.5M673.5 251.9L670.1 246.5L676.5 247.4M700.0 254.1L688.0 246.3M691.5 251.9L688.0 246.3L694.5 247.2M718.2 254.1L705.8 246.0M709.4 251.8L705.8 246.0L712.5 247.0M736.4 254.1L723.5 245.7M727.2 251.7L723.5 245.7L730.5 246.7M754.5 254.1L741.0 245.3M745.0 251.6L741.0 245.3L748.4 246.3M772.7 254.1L758.7 244.9M762.7 251.5L758.7 244.9L766.3 246.0M790.9 254.1L776.4 244.6M780.6 251.4L776.4 244.6L784.3 245.7M209.1 272.3L193.9 282.9M202.3 281.4L193.9 282.9L198.1 275.5M554.5 272.3L547.8 267.5M549.7 270.8L547.8 267.5L551.5 268.2M572.7 272.3L564.6 266.7M566.9 270.6L564.6 266.7L569.1 267.4M590.9 272.3L581.8 266.1M584.4 270.4L581.8 266.1L586.8 266.9M609.1 272.3L599.5 265.8M602.2 270.3L599.5 265.8L604.7 266.6M627.3 272.3L617.4 265.6M620.2 270.3L617.4 265.6L622.8 266.4M645.5 272.3L635.3 265.7M638.2 270.4L635.3 265.7L640.8 266.4M663.6 272.3L653.1 265.7M656.2 270.5L653.1 265.7L658.8 266.4M681.8 272.3L670.8 265.6M674.1 270.5L670.8 265.6L676.7 266.2M700.0 272.3L688.5 265.6M692.0 270.6L688.5 265.6L694.6 266.1M718.2 272.3L706.1 265.5M709.8 270.7L706.1 265.5L712.4 266.0M736.4 272.3L723.7 265.4M727.6 270.7L723.7 265.4L730.3 265.8M754.5 272.3L741.5 264.6M745.5 270.3L741.5 264.6L748.4 265.3M772.7 272.3L759.5 263.8M763.4 269.9L759.5 263.8L766.7 264.8M790.9 272.3L777.5 263.1M781.3 269.5L777.5 263.1L784.9 264.3M209.1 290.4L194.3 300.8M202.5 299.4L194.3 300.8L198.4 293.6M227.3 290.4L214.0 299.7M221.4 298.4L214.0 299.7L217.8 293.3M245.5 290.4L232.5 299.4M239.6 298.2L232.5 299.4L236.1 293.2M263.6 290.4L251.1 299.0M258.0 297.9L251.1 299.0L254.7 293.0M281.8 290.4L269.4 298.9M276.2 297.8L269.4 298.9L273.0 292.9M536.4 290.4L531.9 287.1M533.1 289.4L531.9 287.1L534.4 287.6M554.5 290.4L548.7 286.2M550.3 289.1L548.7 286.2L552.0 286.8M572.7 290.4L565.9 285.6M567.8 288.9L565.9 285.6L569.7 286.3M590.9 290.4L583.6 285.3M585.7 288.9L583.6 285.3L587.7 286.1M609.1 290.4L601.2 284.9M603.4 288.7L601.2 284.9L605.6 285.7M627.3 290.4L618.7 284.4M621.1 288.6L618.7 284.4L623.4 285.3M645.5 290.4L636.3 284.5M639.0 288.7L636.3 284.5L641.3 285.2M663.6 290.4L653.9 284.6M656.8 288.9L653.9 284.6L659.1 285.1M681.8 290.4L671.2 284.5M674.5 289.1L671.2 284.5L676.8 284.9M700.0 290.4L688.8 284.7M692.4 289.2L688.8 284.7L694.6 284.9M718.2 290.4L706.2 284.7M710.1 289.4L706.2 284.7L712.3 284.8M736.4 290.4L723.7 284.9M727.9 289.7L723.7 284.9L730.1 284.8M754.5 290.4L741.6 283.7M745.7 289.0L741.6 283.7L748.3 284.0M772.7 290.4L759.9 282.5M763.7 288.3L759.9 282.5L766.8 283.3M790.9 290.4L778.2 281.2M781.7 287.5L778.2 281.2L785.3 282.6M227.3 308.6L214.2 317.8M221.4 316.5L214.2 317.8L217.9 311.4M245.5 308.6L230.7 318.8M238.8 317.4L230.7 318.8L234.8 311.7M263.6 308.6L248.7 318.8M256.9 317.5L248.7 318.8L252.9 311.6M281.8 308.6L267.3 318.6M275.3 317.2L267.3 318.6L271.4 311.6M300.0 308.6L286.1 318.2M293.8 316.9L286.1 318.2L290.0 311.5M318.2 308.6L306.4 316.4M312.9 315.5L306.4 316.4L309.8 310.9M500.0 308.6L496.7 307.5M498.2 308.9L496.7 307.5L498.7 307.3M518.2 308.6L514.1 306.6M515.4 308.2L514.1 306.6L516.2 306.7M536.4 308.6L531.5 305.6M532.9 307.8L531.5 305.6L534.1 305.9M554.5 308.6L549.3 304.5M550.7 307.2L549.3 304.5L552.3 305.2M572.7 308.6L567.2 304.5M568.7 307.3L567.2 304.5L570.3 305.2M590.9 308.6L585.4 304.8M586.9 307.4L585.4 304.8L588.4 305.3M609.1 308.6L603.3 304.8M605.0 307.5L603.3 304.8L606.5 305.2M627.3 308.6L620.6 304.4M622.5 307.4L620.6 304.4L624.2 304.8M645.5 308.6L637.6 304.3M640.0 307.7L637.6 304.3L641.7 304.6M663.6 308.6L654.5 304.5M657.5 308.0L654.5 304.5L659.1 304.4M681.8 308.6L671.6 304.8M675.1 308.4L671.6 304.8L676.6 304.4M700.0 308.6L689.1 305.5M693.0 308.9L689.1 305.5L694.3 304.7M718.2 308.6L706.5 305.5M710.7 309.1L706.5 305.5L712.0 304.5M736.4 308.6L724.1 305.6M728.6 309.3L724.1 305.6L729.8 304.5M754.5 308.6L742.2 303.5M746.3 308.0L742.2 303.5L748.3 303.2M772.7 308.6L760.9 301.5M764.4 306.8L760.9 301.5L767.2 302.2M790.9 308.6L778.8 300.5M782.3 306.2L778.8 300.5L785.4 301.5M263.6 326.8L249.4 336.4M257.2 335.2L249.4 336.4L253.4 329.6M281.8 326.8L267.8 336.4M275.5 335.1L267.8 336.4L271.8 329.7M300.0 326.8L286.3 336.4M293.9 335.1L286.3 336.4L290.1 329.7M318.2 326.8L305.9 335.4M312.7 334.2L305.9 335.4L309.3 329.4M336.4 326.8L325.5 334.4M331.5 333.3L325.5 334.4L328.6 329.1M354.5 326.8L344.7 332.8M350.0 332.2L344.7 332.8L347.6 328.4M372.7 326.8L363.9 331.5M368.5 331.3L363.9 331.5L366.7 327.8M390.9 326.8L382.8 329.7M386.8 330.1L382.8 329.7L385.6 326.9M409.1 326.8L401.7 328.4M405.1 329.1L401.7 328.4L404.5 326.3M427.3 326.8L420.8 327.7M423.7 328.6L420.8 327.7L423.3 326.0M445.5 326.8L439.9 327.1M442.3 328.0L439.9 327.1L442.2 325.9M463.6 326.8L458.3 326.7M460.5 327.8L458.3 326.7L460.5 325.7M481.8 326.8L476.6 326.3M478.7 327.6L476.6 326.3L478.9 325.5M500.0 326.8L494.6 325.9M496.7 327.3L494.6 325.9L497.1 325.2M518.2 326.8L511.6 325.0M514.0 327.1L511.6 325.0L514.7 324.5M536.4 326.8L529.2 323.0M531.4 326.0L529.2 323.0L532.9 323.2M554.5 326.8L548.3 321.5M549.9 324.9L548.3 321.5L551.9 322.5M572.7 326.8L567.0 322.4M568.5 325.3L567.0 322.4L570.2 323.1M590.9 326.8L585.9 323.3M587.3 325.7L585.9 323.3L588.7 323.8M609.1 326.8L604.5 323.9M605.9 326.0L604.5 323.9L607.0 324.2M627.3 326.8L622.0 323.8M623.6 326.1L622.0 323.8L624.8 324.0M645.5 326.8L638.8 323.8M641.0 326.4L638.8 323.8L642.1 323.8M663.6 326.8L655.4 324.1M658.3 326.8L655.4 324.1L659.4 323.6M681.8 326.8L672.5 324.9M676.0 327.5L672.5 324.9L676.8 323.9M700.0 326.8L690.2 325.9M694.1 328.2L690.2 325.9L694.5 324.4M718.2 326.8L707.8 326.0M711.9 328.3L707.8 326.0L712.3 324.3M736.4 326.8L725.5 326.0M729.9 328.5L725.5 326.0L730.2 324.2M754.5 326.8L743.4 323.4M747.4 327.0L743.4 323.4L748.7 322.6M772.7 326.8L762.2 320.7M765.4 325.3L762.2 320.7L767.8 321.2M790.9 326.8L780.0 320.0M783.2 324.9L780.0 320.0L785.9 320.7M300.0 345.0L286.2 354.3M293.8 353.1L286.2 354.3L290.1 347.7M318.2 345.0L305.3 353.7M312.4 352.6L305.3 353.7L309.0 347.5M336.4 345.0L325.1 352.6M331.3 351.6L325.1 352.6L328.3 347.2M354.5 345.0L344.2 350.8M349.7 350.4L344.2 350.8L347.4 346.4M372.7 345.0L363.9 349.1M368.4 349.1L363.9 349.1L366.8 345.7M390.9 345.0L383.2 347.4M386.9 347.9L383.2 347.4L386.0 344.9M409.1 345.0L401.1 346.4M404.7 347.3L401.1 346.4L404.2 344.3M427.3 345.0L419.4 345.5M422.8 346.8L419.4 345.5L422.6 343.7M445.5 345.0L438.3 344.6M441.2 346.2L438.3 344.6L441.3 343.4M463.6 345.0L456.6 344.5M459.5 346.1L456.6 344.5L459.6 343.3M481.8 345.0L474.7 344.4M477.5 346.0L474.7 344.4L477.8 343.2M500.0 345.0L492.3 343.5M495.2 345.6L492.3 343.5L495.8 342.6M518.2 345.0L509.7 342.3M512.7 345.1L509.7 342.3L513.8 341.8M536.4 345.0L527.6 339.9M530.3 343.7L527.6 339.9L532.2 340.3M554.5 345.0L547.5 338.5M549.2 342.6L547.5 338.5L551.7 339.8M572.7 345.0L566.5 339.8M568.1 343.2L566.5 339.8L570.1 340.7M590.9 345.0L586.1 341.3M587.4 343.8L586.1 341.3L588.8 341.9M609.1 345.0L605.5 342.5M606.5 344.3L605.5 342.5L607.5 342.9M627.3 345.0L623.6 342.8M624.8 344.5L623.6 342.8L625.6 343.0M645.5 345.0L640.5 342.7M642.1 344.6L640.5 342.7L643.0 342.7M663.6 345.0L656.6 342.7M659.1 345.0L656.6 342.7L660.0 342.3M681.8 345.0L673.2 343.3M676.5 345.7L673.2 343.3L677.1 342.4M700.0 345.0L690.8 344.4M694.5 346.4L690.8 344.4L694.7 342.9M718.2 345.0L708.8 344.5M712.6 346.6L708.8 344.5L712.8 342.9M736.4 345.0L726.7 344.6M730.7 346.7L726.7 344.6L730.8 342.9M754.5 345.0L744.4 343.1M748.3 345.9L744.4 343.1L749.0 341.9M772.7 345.0L762.6 341.5M766.1 344.9L762.6 341.5L767.5 341.0M790.9 345.0L780.4 340.4M783.9 344.4L780.4 340.4L785.7 340.3M300.0 363.2L287.4 371.3M294.2 370.4L287.4 371.3L291.1 365.5M318.2 363.2L306.1 371.0M312.7 370.1L306.1 371.0L309.6 365.4M336.4 363.2L325.7 370.1M331.5 369.3L325.7 370.1L328.8 365.1M354.5 363.2L344.8 368.3M349.8 368.0L344.8 368.3L347.9 364.2M372.7 363.2L364.6 366.5M368.6 366.7L364.6 366.5L367.3 363.5M390.9 363.2L383.8 365.1M387.1 365.7L383.8 365.1L386.4 362.9M409.1 363.2L401.0 364.3M404.6 365.4L401.0 364.3L404.2 362.3M427.3 363.2L418.8 363.1M422.3 364.8L418.8 363.1L422.4 361.5M445.5 363.2L437.3 361.9M440.5 364.0L437.3 361.9L440.9 360.9M463.6 363.2L455.5 362.2M458.7 364.2L455.5 362.2L459.1 361.0M481.8 363.2L473.6 362.4M476.9 364.3L473.6 362.4L477.2 361.2M500.0 363.2L491.7 361.3M494.8 363.7L491.7 361.3L495.5 360.5M518.2 363.2L509.7 360.1M512.6 363.0L509.7 360.1L513.8 359.7M536.4 363.2L528.2 357.9M530.6 361.7L528.2 357.9L532.6 358.5M554.5 363.2L548.1 356.7M549.5 360.6L548.1 356.7L552.0 358.1M572.7 363.2L566.9 357.8M568.3 361.2L566.9 357.8L570.4 358.9M590.9 363.2L586.4 359.4M587.6 361.8L586.4 359.4L589.0 360.1M609.1 363.2L605.9 360.9M606.9 362.6L605.9 360.9L607.9 361.2M627.3 363.2L624.6 361.5M625.7 363.2L624.6 361.5L626.6 361.7M645.5 363.2L641.6 361.4M642.9 362.9L641.6 361.4L643.6 361.4M663.6 363.2L657.6 361.2M659.7 363.2L657.6 361.2L660.5 360.8M681.8 363.2L673.9 361.8M676.9 363.9L673.9 361.8L677.5 360.8M700.0 363.2L691.1 362.9M694.8 364.7L691.1 362.9L694.9 361.3M718.2 363.2L709.2 363.0M712.9 364.8L709.2 363.0L713.0 361.3M736.4 363.2L727.3 363.2M731.1 364.9L727.3 363.2L731.1 361.4M754.5 363.2L745.2 362.5M749.0 364.6L745.2 362.5L749.2 361.0M772.7 363.2L763.1 361.8M766.9 364.2L763.1 361.8L767.4 360.5M790.9 363.2L781.0 360.5M784.6 363.5L781.0 360.5L785.6 359.7M281.8 381.3L271.0 388.2M276.8 387.4L271.0 388.2L274.2 383.2M300.0 381.3L288.6 388.3M294.7 387.6L288.6 388.3L292.0 383.2M318.2 381.3L306.9 387.5M312.8 387.1L306.9 387.5L310.4 382.7M336.4 381.3L326.0 386.3M331.3 386.3L326.0 386.3L329.3 382.2M354.5 381.3L345.2 384.8M349.7 385.2L345.2 384.8L348.4 381.5M372.7 381.3L365.0 383.4M368.6 384.0L365.0 383.4L367.8 381.1M390.9 381.3L384.0 382.4M387.1 383.3L384.0 382.4L386.6 380.6M409.1 381.3L401.2 381.8M404.6 383.1L401.2 381.8L404.4 380.1M427.3 381.3L419.2 380.6M422.4 382.5L419.2 380.6L422.7 379.3M445.5 381.3L437.8 379.4M440.6 381.7L437.8 379.4L441.4 378.7M463.6 381.3L456.1 379.2M458.8 381.6L456.1 379.2L459.7 378.6M481.8 381.3L474.4 379.0M477.0 381.4L474.4 379.0L477.9 378.5M500.0 381.3L492.8 378.1M495.2 380.9L492.8 378.1L496.4 378.0M518.2 381.3L511.0 377.0M513.2 380.2L511.0 377.0L514.8 377.4M536.4 381.3L529.5 376.0M531.3 379.6L529.5 376.0L533.4 376.9M554.5 381.3L548.6 375.4M549.9 379.0L548.6 375.4L552.2 376.7M572.7 381.3L567.4 376.4M568.6 379.5L567.4 376.4L570.6 377.4M590.9 381.3L586.8 377.9M587.8 380.1L586.8 377.9L589.2 378.5M609.1 381.3L605.9 379.0M606.8 380.8L605.9 379.0L607.8 379.4M627.3 381.3L624.6 379.7M625.7 381.4L624.6 379.7L626.6 379.9M645.5 381.3L641.8 379.7M643.1 381.2L641.8 379.7L643.8 379.7M663.6 381.3L658.0 379.5M660.0 381.4L658.0 379.5L660.7 379.2M681.8 381.3L674.5 379.9M677.3 382.0L674.5 379.9L677.8 379.1M700.0 381.3L692.1 380.9M695.3 382.6L692.1 380.9L695.5 379.5M718.2 381.3L710.2 381.1M713.5 382.8L710.2 381.1L713.6 379.6M736.4 381.3L728.2 381.3M731.6 382.9L728.2 381.3L731.6 379.8M754.5 381.3L745.7 381.2M749.4 382.9L745.7 381.2L749.4 379.5M772.7 381.3L763.6 380.9M767.3 382.9L763.6 380.9L767.5 379.3M790.9 381.3L781.6 380.4M785.3 382.6L781.6 380.4L785.7 379.0M281.8 399.5L271.1 406.0M276.8 405.4L271.1 406.0L274.3 401.2M300.0 399.5L289.1 405.8M294.9 405.3L289.1 405.8L292.4 401.1M318.2 399.5L307.1 404.5M312.7 404.6L307.1 404.5L310.8 400.2M336.4 399.5L325.9 402.9M330.9 403.6L325.9 402.9L329.6 399.5M354.5 399.5L345.1 401.7M349.4 402.6L345.1 401.7L348.6 399.0M372.7 399.5L365.0 400.6M368.4 401.7L365.0 400.6L368.0 398.7M390.9 399.5L384.3 399.9M387.1 401.0L384.3 399.9L387.0 398.4M409.1 399.5L402.1 399.3M404.9 400.8L402.1 399.3L405.0 398.0M427.3 399.5L420.2 398.2M422.9 400.1L420.2 398.2L423.4 397.3M445.5 399.5L438.7 397.1M441.1 399.4L438.7 397.1L442.0 396.8M463.6 399.5L457.2 396.5M459.3 399.0L457.2 396.5L460.5 396.5M481.8 399.5L475.8 396.0M477.6 398.7L475.8 396.0L479.0 396.3M500.0 399.5L494.2 395.3M495.8 398.2L494.2 395.3L497.5 396.0M518.2 399.5L512.4 394.3M513.8 397.6L512.4 394.3L515.8 395.4M536.4 399.5L530.2 393.7M531.6 397.3L530.2 393.7L533.9 394.9M554.5 399.5L548.6 393.6M550.0 397.2L548.6 393.6L552.2 394.9M572.7 399.5L567.3 394.5M568.6 397.7L567.3 394.5L570.5 395.6M590.9 399.5L586.2 395.6M587.4 398.2L586.2 395.6L588.9 396.3M609.1 399.5L605.1 396.6M606.2 398.6L605.1 396.6L607.3 397.0M627.3 399.5L623.7 397.3M624.8 398.9L623.7 397.3L625.7 397.5M645.5 399.5L641.4 397.6M642.7 399.2L641.4 397.6L643.5 397.6M663.6 399.5L658.2 397.8M660.1 399.6L658.2 397.8L660.8 397.4M681.8 399.5L675.0 398.1M677.6 400.0L675.0 398.1L678.1 397.4M700.0 399.5L692.8 398.9M695.7 400.6L692.8 398.9L695.9 397.8M718.2 399.5L711.0 399.2M713.9 400.7L711.0 399.2L714.0 397.9M736.4 399.5L728.9 399.5M732.0 401.0L728.9 399.5L732.0 398.1M754.5 399.5L746.3 399.7M749.8 401.3L746.3 399.7L749.7 398.1M772.7 399.5L764.1 400.0M767.8 401.5L764.1 400.0L767.6 398.1M790.9 399.5L781.9 400.0M785.7 401.6L781.9 400.0L785.5 398.0M300.0 417.7L289.0 423.1M294.6 423.0L289.0 423.1L292.5 418.7M318.2 417.7L307.7 422.1M312.9 422.3L307.7 422.1L311.2 418.2M336.4 417.7L326.7 421.0M331.4 421.5L326.7 421.0L330.1 417.8M354.5 417.7L345.3 419.9M349.6 420.8L345.3 419.9L348.7 417.2M372.7 417.7L364.5 418.9M368.2 420.0L364.5 418.9L367.7 416.8M390.9 417.7L383.8 417.3M386.7 418.9L383.8 417.3L386.8 416.1M409.1 417.7L401.8 415.8M404.5 418.0L401.8 415.8L405.2 415.2M427.3 417.7L420.1 414.7M422.5 417.3L420.1 414.7L423.7 414.5M445.5 417.7L438.7 413.7M440.7 416.7L438.7 413.7L442.3 414.0M463.6 417.7L457.0 413.2M458.9 416.4L457.0 413.2L460.6 413.8M481.8 417.7L475.6 413.0M477.3 416.1L475.6 413.0L479.1 413.7M500.0 417.7L494.0 412.6M495.5 415.9L494.0 412.6L497.5 413.6M518.2 417.7L511.9 411.7M513.3 415.4L511.9 411.7L515.7 413.0M536.4 417.7L529.5 411.4M531.1 415.4L529.5 411.4L533.6 412.7M554.5 417.7L547.8 411.7M549.5 415.5L547.8 411.7L551.8 412.9M572.7 417.7L566.3 412.2M567.9 415.7L566.3 412.2L570.0 413.2M590.9 417.7L585.1 412.9M586.6 416.1L585.1 412.9L588.5 413.8M609.1 417.7L603.7 413.7M605.2 416.4L603.7 413.7L606.7 414.4M627.3 417.7L622.0 414.2M623.5 416.7L622.0 414.2L624.9 414.7M645.5 417.7L639.9 414.6M641.6 417.0L639.9 414.6L642.8 414.8M663.6 417.7L657.1 414.8M659.3 417.3L657.1 414.8L660.4 414.7M681.8 417.7L674.4 415.1M677.0 417.6L674.4 415.1L678.0 414.7M700.0 417.7L692.2 415.7M695.1 418.1L692.2 415.7L695.8 415.0M718.2 417.7L710.3 416.1M713.3 418.3L710.3 416.1L713.9 415.2M736.4 417.7L728.2 416.5M731.4 418.6L728.2 416.5L731.9 415.4M754.5 417.7L745.7 416.6M749.2 418.8L745.7 416.6L749.6 415.4M772.7 417.7L763.7 416.8M767.3 419.0L763.7 416.8L767.6 415.4M790.9 417.7L781.7 416.9M785.4 419.1L781.7 416.9L785.7 415.5M336.4 435.9L327.7 439.1M331.9 439.4L327.7 439.1L330.7 436.0M354.5 435.9L345.4 438.2M349.7 439.0L345.4 438.2L348.8 435.4M372.7 435.9L364.1 437.1M368.0 438.3L364.1 437.1L367.5 434.9M390.9 435.9L383.1 434.5M386.1 436.6L383.1 434.5L386.6 433.6M409.1 435.9L401.4 431.8M403.8 435.0L401.4 431.8L405.4 432.0M427.3 435.9L419.6 430.5M421.7 434.2L419.6 430.5L423.8 431.2M445.5 435.9L438.3 429.5M440.1 433.5L438.3 429.5L442.5 430.8M463.6 435.9L456.7 429.3M458.3 433.4L456.7 429.3L460.9 430.7M481.8 435.9L475.2 429.2M476.6 433.3L475.2 429.2L479.2 430.7M500.0 435.9L493.3 429.1M494.8 433.3L493.3 429.1L497.4 430.6M518.2 435.9L510.9 428.7M512.6 433.1L510.9 428.7L515.4 430.3M536.4 435.9L528.4 428.8M530.3 433.3L528.4 428.8L533.1 430.2M554.5 435.9L546.2 429.3M548.4 433.7L546.2 429.3L551.0 430.4M572.7 435.9L564.7 429.4M566.8 433.7L564.7 429.4L569.3 430.6M590.9 435.9L583.5 429.9M585.5 433.8L583.5 429.9L587.8 431.0M609.1 435.9L601.9 430.5M603.8 434.1L601.9 430.5L605.9 431.3M627.3 435.9L620.0 430.9M622.1 434.4L620.0 430.9L624.0 431.6M645.5 435.9L638.3 431.4M640.4 434.6L638.3 431.4L642.1 431.8M663.6 435.9L656.1 431.5M658.4 434.8L656.1 431.5L660.1 431.9M681.8 435.9L673.5 431.7M676.2 435.1L673.5 431.7L677.8 431.8M700.0 435.9L691.4 432.1M694.2 435.3L691.4 432.1L695.7 432.0M718.2 435.9L709.3 432.6M712.4 435.7L709.3 432.6L713.7 432.2M736.4 435.9L727.3 433.0M730.5 436.0L727.3 433.0L731.6 432.5M754.5 435.9L745.3 433.3M748.6 436.2L745.3 433.3L749.6 432.6M772.7 435.9L763.4 433.5M766.8 436.3L763.4 433.5L767.7 432.7M790.9 435.9L781.6 433.8M785.1 436.5L781.6 433.8L785.9 432.9M336.4 454.1L327.5 456.3M331.6 457.1L327.5 456.3L330.7 453.6M354.5 454.1L345.1 455.6M349.3 456.8L345.1 455.6L348.7 453.1M372.7 454.1L363.4 454.7M367.4 456.3L363.4 454.7L367.1 452.6M390.9 454.1L382.1 452.6M385.5 454.9L382.1 452.6L386.1 451.5M409.1 454.1L399.9 450.1M403.0 453.6L399.9 450.1L404.5 450.0M427.3 454.1L418.2 448.8M420.9 452.8L418.2 448.8L423.0 449.2M445.5 454.1L437.0 447.7M439.3 452.0L437.0 447.7L441.8 448.7M463.6 454.1L455.2 447.7M457.5 452.0L455.2 447.7L460.0 448.7M481.8 454.1L473.5 447.7M475.7 452.0L473.5 447.7L478.2 448.7M500.0 454.1L491.7 447.6M493.9 451.9L491.7 447.6L496.4 448.7M518.2 454.1L509.7 447.3M511.9 451.8L509.7 447.3L514.5 448.5M536.4 454.1L527.1 447.1M529.6 451.8L527.1 447.1L532.3 448.2M554.5 454.1L544.9 447.3M547.6 452.0L544.9 447.3L550.3 448.2M572.7 454.1L563.3 447.4M565.9 452.0L563.3 447.4L568.5 448.3M590.9 454.1L581.9 447.7M584.4 452.1L581.9 447.7L586.9 448.6M609.1 454.1L599.9 447.7M602.5 452.2L599.9 447.7L605.0 448.6M627.3 454.1L618.0 447.9M620.7 452.3L618.0 447.9L623.1 448.7M645.5 454.1L636.3 448.6M639.1 452.7L636.3 448.6L641.2 449.1M663.6 454.1L654.3 449.1M657.2 453.0L654.3 449.1L659.2 449.4M681.8 454.1L672.2 449.3M675.3 453.2L672.2 449.3L677.2 449.4M700.0 454.1L690.2 449.5M693.4 453.3L690.2 449.5L695.2 449.5M718.2 454.1L708.3 449.8M711.6 453.5L708.3 449.8L713.3 449.7M736.4 454.1L726.4 450.1M729.8 453.7L726.4 450.1L731.3 449.8M754.5 454.1L744.7 450.3M748.1 453.8L744.7 450.3L749.5 450.0M772.7 454.1L763.0 450.6M766.4 453.9L763.0 450.6L767.7 450.1M790.9 454.1L781.5 451.0M784.8 454.1L781.5 451.0L786.0 450.4M336.4 472.3L326.7 473.6M331.0 474.9L326.7 473.6L330.5 471.2M354.5 472.3L344.7 472.9M348.9 474.6L344.7 472.9L348.6 470.7M372.7 472.3L363.0 472.3M367.0 474.2L363.0 472.3L367.0 470.4M390.9 472.3L381.7 470.7M385.2 473.2L381.7 470.7L385.8 469.6M409.1 472.3L399.7 469.1M403.0 472.2L399.7 469.1L404.2 468.6M427.3 472.3L418.1 467.9M421.1 471.5L418.1 467.9L422.7 467.9M445.5 472.3L436.8 466.9M439.4 470.8L436.8 466.9L441.5 467.4M463.6 472.3L454.8 467.0M457.5 470.9L454.8 467.0L459.5 467.5M481.8 472.3L472.7 467.0M475.5 471.0L472.7 467.0L477.5 467.4M500.0 472.3L490.9 466.8M493.6 470.8L490.9 466.8L495.7 467.3M518.2 472.3L508.9 466.4M511.6 470.7L508.9 466.4L513.9 467.0M536.4 472.3L526.4 466.0M529.3 470.6L526.4 466.0L531.8 466.7M554.5 472.3L544.2 465.8M547.2 470.5L544.2 465.8L549.8 466.5M572.7 472.3L562.2 465.7M565.3 470.5L562.2 465.7L567.9 466.4M590.9 472.3L580.4 465.7M583.5 470.5L580.4 465.7L586.0 466.4M609.1 472.3L598.3 465.4M601.5 470.3L598.3 465.4L604.1 466.2M627.3 472.3L616.6 465.3M619.7 470.3L616.6 465.3L622.4 466.1M645.5 472.3L634.7 466.2M638.0 470.8L634.7 466.2L640.4 466.6M663.6 472.3L652.6 466.9M656.1 471.3L652.6 466.9L658.2 467.0M681.8 472.3L670.7 466.9M674.3 471.3L670.7 466.9L676.4 467.0M700.0 472.3L689.0 466.9M692.5 471.3L689.0 466.9L694.6 467.0M718.2 472.3L707.3 466.9M710.8 471.3L707.3 466.9L712.9 467.0M736.4 472.3L725.7 467.0M729.1 471.3L725.7 467.0L731.1 467.1M754.5 472.3L744.4 467.4M747.7 471.4L744.4 467.4L749.6 467.4M772.7 472.3L762.8 467.6M766.0 471.5L762.8 467.6L767.8 467.6M790.9 472.3L781.1 467.9M784.4 471.6L781.1 467.9L786.0 467.8M318.2 490.4L310.2 491.3M313.7 492.5L310.2 491.3L313.4 489.4M336.4 490.4L326.8 491.1M330.9 492.7L326.8 491.1L330.6 489.0M354.5 490.4L344.5 490.7M348.8 492.5L344.5 490.7L348.7 488.6M372.7 490.4L362.8 490.2M366.9 492.2L362.8 490.2L367.0 488.4M390.9 490.4L381.4 489.0M385.1 491.4L381.4 489.0L385.6 487.7M409.1 490.4L399.8 487.7M403.1 490.7L399.8 487.7L404.2 487.0M427.3 490.4L418.3 486.7M421.3 490.0L418.3 486.7L422.8 486.5M445.5 490.4L436.9 485.7M439.5 489.3L436.9 485.7L441.4 486.0M463.6 490.4L454.8 485.8M457.6 489.5L454.8 485.8L459.4 486.0M481.8 490.4L472.7 486.0M475.7 489.6L472.7 486.0L477.4 486.1M500.0 490.4L490.8 485.7M493.7 489.5L490.8 485.7L495.6 485.9M518.2 490.4L508.5 485.2M511.5 489.3L508.5 485.2L513.6 485.5M536.4 490.4L526.1 484.8M529.3 489.1L526.1 484.8L531.5 485.1M554.5 490.4L543.2 484.0M546.7 488.9L543.2 484.0L549.2 484.5M572.7 490.4L560.5 483.5M564.2 488.8L560.5 483.5L566.9 484.0M590.9 490.4L578.4 483.3M582.2 488.7L578.4 483.3L585.0 483.9M609.1 490.4L596.6 483.2M600.4 488.7L596.6 483.2L603.2 483.8M627.3 490.4L614.7 483.1M618.5 488.6L614.7 483.1L621.4 483.7M645.5 490.4L632.7 483.5M636.7 488.9L632.7 483.5L639.4 483.9M663.6 490.4L650.7 484.0M654.8 489.2L650.7 484.0L657.3 484.2M681.8 490.4L669.2 483.4M673.1 488.8L669.2 483.4L675.8 483.9M700.0 490.4L687.9 482.9M691.5 488.4L687.9 482.9L694.4 483.7M718.2 490.4L706.7 482.8M710.0 488.2L706.7 482.8L713.0 483.8M736.4 490.4L725.6 482.7M728.6 488.0L725.6 482.7L731.6 483.8M754.5 490.4L744.5 483.0M747.2 488.0L744.5 483.0L750.1 484.1M772.7 490.4L763.2 483.1M765.7 488.0L763.2 483.1L768.6 484.3M790.9 490.4L781.7 483.5M784.2 488.2L781.7 483.5L786.9 484.6M300.0 508.6L294.4 509.1M296.9 510.0L294.4 509.1L296.7 507.8M318.2 508.6L310.6 508.9M313.8 510.3L310.6 508.9L313.7 507.3M336.4 508.6L326.8 508.6M330.8 510.5L326.8 508.6L330.8 506.8M354.5 508.6L344.5 508.4M348.7 510.4L344.5 508.4L348.8 506.5M372.7 508.6L362.9 508.2M366.9 510.3L362.9 508.2L367.1 506.5M390.9 508.6L381.8 507.3M385.4 509.6L381.8 507.3L385.9 506.1M409.1 508.6L400.4 506.4M403.6 509.0L400.4 506.4L404.4 505.6M427.3 508.6L418.8 505.5M421.8 508.5L418.8 505.5L423.0 505.2M445.5 508.6L437.2 504.6M439.9 507.9L437.2 504.6L441.4 504.7M463.6 508.6L454.8 504.7M457.7 508.0L454.8 504.7L459.3 504.6M481.8 508.6L472.6 504.9M475.7 508.2L472.6 504.9L477.2 504.6M500.0 508.6L490.6 504.5M493.7 508.1L490.6 504.5L495.3 504.4M518.2 508.6L508.2 504.0M511.5 507.8L508.2 504.0L513.3 504.0M536.4 508.6L525.9 503.5M529.3 507.7L525.9 503.5L531.2 503.6M554.5 508.6L542.7 502.6M546.5 507.4L542.7 502.6L548.8 502.8M572.7 508.6L559.7 502.0M563.8 507.3L559.7 502.0L566.4 502.2M590.9 508.6L577.4 501.7M581.7 507.2L577.4 501.7L584.4 502.0M609.1 508.6L595.9 501.7M600.0 507.2L595.9 501.7L602.7 502.0M627.3 508.6L613.7 501.4M618.0 507.1L613.7 501.4L620.8 501.8M645.5 508.6L631.7 501.4M636.0 507.1L631.7 501.4L638.8 501.8M663.6 508.6L649.9 501.6M654.3 507.2L649.9 501.6L657.0 501.9M681.8 508.6L669.1 500.5M672.8 506.4L669.1 500.5L676.0 501.4M700.0 508.6L688.2 499.4M691.4 505.5L688.2 499.4L694.9 501.0M718.2 508.6L707.3 499.0M710.0 505.1L707.3 499.0L713.7 500.9M736.4 508.6L726.6 498.8M728.7 504.8L726.6 498.8L732.6 501.0M754.5 508.6L745.5 498.8M747.4 504.6L745.5 498.8L751.2 501.1M772.7 508.6L764.6 498.9M766.1 504.5L764.6 498.9L769.9 501.4M790.9 508.6L783.0 499.2M784.5 504.7L783.0 499.2L788.1 501.6M281.8 526.8L277.9 527.8M279.9 528.2L277.9 527.8L279.5 526.5M300.0 526.8L294.8 527.6M297.1 528.3L294.8 527.6L296.8 526.2M318.2 526.8L310.9 527.4M314.1 528.6L310.9 527.4L313.8 525.8M336.4 526.8L327.1 527.0M331.0 528.7L327.1 527.0L330.9 525.1M354.5 526.8L344.8 526.8M348.9 528.7L344.8 526.8L348.8 524.9M372.7 526.8L363.2 526.6M367.1 528.5L363.2 526.6L367.2 524.8M390.9 526.8L382.2 525.8M385.6 527.9L382.2 525.8L386.0 524.5M409.1 526.8L400.6 525.0M403.8 527.4L400.6 525.0L404.5 524.1M427.3 526.8L418.9 524.2M421.9 526.9L418.9 524.2L422.9 523.6M445.5 526.8L437.3 523.3M440.0 526.4L437.3 523.3L441.4 523.2M463.6 526.8L455.0 523.4M457.9 526.5L455.0 523.4L459.3 523.1M481.8 526.8L472.6 523.4M475.8 526.6L472.6 523.4L477.1 523.0M500.0 526.8L490.5 523.1M493.7 526.5L490.5 523.1L495.2 522.8M518.2 526.8L508.0 522.6M511.4 526.3L508.0 522.6L513.1 522.4M536.4 526.8L525.7 522.2M529.3 526.2L525.7 522.2L531.1 522.0M554.5 526.8L542.7 521.4M546.6 526.0L542.7 521.4L548.7 521.4M572.7 526.8L559.9 520.8M564.1 525.8L559.9 520.8L566.4 520.8M590.9 526.8L578.1 520.5M582.2 525.6L578.1 520.5L584.7 520.7M609.1 526.8L597.0 520.6M600.8 525.6L597.0 520.6L603.2 520.8M627.3 526.8L614.9 520.2M618.8 525.4L614.9 520.2L621.3 520.6M645.5 526.8L632.8 520.0M636.8 525.3L632.8 520.0L639.4 520.4M663.6 526.8L651.0 519.9M654.9 525.3L651.0 519.9L657.6 520.3M681.8 526.8L669.7 519.1M673.3 524.7L669.7 519.1L676.3 520.0M700.0 526.8L688.6 518.4M691.7 524.1L688.6 518.4L695.0 519.7M718.2 526.8L707.7 518.0M710.4 523.7L707.7 518.0L713.8 519.6M736.4 526.8L726.7 517.6M728.9 523.3L726.7 517.6L732.5 519.5M754.5 526.8L745.5 517.2M747.4 523.0L745.5 517.2L751.2 519.5M772.7 526.8L764.7 517.2M766.2 522.8L764.7 517.2L769.9 519.7M790.9 526.8L783.2 517.2M784.5 522.7L783.2 517.2L788.3 519.7M263.6 545.0L260.4 546.1M262.4 546.3L260.4 546.1L261.9 544.7M281.8 545.0L277.9 546.1M279.9 546.4L277.9 546.1L279.4 544.8M300.0 545.0L294.8 546.1M297.2 546.6L294.8 546.1L296.8 544.6M318.2 545.0L311.4 545.9M314.4 546.8L311.4 545.9L314.0 544.2M336.4 545.0L327.8 545.4M331.5 546.9L327.8 545.4L331.3 543.6M354.5 545.0L345.6 545.2M349.4 546.9L345.6 545.2L349.3 543.4M372.7 545.0L364.0 545.0M367.6 546.7L364.0 545.0L367.6 543.3M390.9 545.0L382.8 544.3M386.0 546.1L382.8 544.3L386.3 543.0M409.1 545.0L400.7 543.5M403.9 545.8L400.7 543.5L404.5 542.5M427.3 545.0L418.8 542.7M421.9 545.3L418.8 542.7L422.8 542.0M445.5 545.0L436.9 541.9M439.9 544.8L436.9 541.9L441.1 541.5M463.6 545.0L454.5 541.8M457.7 544.9L454.5 541.8L458.9 541.4M481.8 545.0L472.3 541.9M475.7 545.0L472.3 541.9L476.9 541.3M500.0 545.0L490.4 541.7M493.7 544.9L490.4 541.7L495.0 541.2M518.2 545.0L508.0 541.3M511.5 544.8L508.0 541.3L513.0 540.8M536.4 545.0L526.0 541.0M529.6 544.7L526.0 541.0L531.1 540.6M554.5 545.0L543.8 540.6M547.4 544.5L543.8 540.6L549.1 540.4M572.7 545.0L561.3 540.0M565.1 544.3L561.3 540.0L567.0 539.9M590.9 545.0L579.7 539.8M583.4 544.1L579.7 539.8L585.4 539.8M609.1 545.0L599.0 540.0M602.3 544.0L599.0 540.0L604.2 540.1M627.3 545.0L617.4 539.8M620.5 543.8L617.4 539.8L622.6 540.0M645.5 545.0L635.3 539.4M638.5 543.7L635.3 539.4L640.6 539.7M663.6 545.0L653.5 539.1M656.6 543.5L653.5 539.1L658.9 539.6M681.8 545.0L671.9 538.7M674.8 543.2L671.9 538.7L677.3 539.4M700.0 545.0L690.4 538.3M693.1 542.9L690.4 538.3L695.7 539.2M718.2 545.0L709.1 537.8M711.5 542.5L709.1 537.8L714.3 539.0M736.4 545.0L727.8 537.2M729.8 542.1L727.8 537.2L732.9 538.8M754.5 545.0L746.3 536.5M748.1 541.6L746.3 536.5L751.4 538.4M772.7 545.0L765.2 536.0M766.6 541.2L765.2 536.0L770.1 538.3M790.9 545.0L783.7 535.8M784.9 541.0L783.7 535.8L788.5 538.2M245.5 563.2L240.1 566.0M242.9 565.9L240.1 566.0L241.8 563.8M263.6 563.2L258.7 565.4M261.2 565.4L258.7 565.4L260.3 563.5M281.8 563.2L276.5 564.9M279.1 565.2L276.5 564.9L278.4 563.1M300.0 563.2L293.7 564.5M296.6 565.2L293.7 564.5L296.1 562.7M318.2 563.2L310.7 564.1M314.0 565.2L310.7 564.1L313.7 562.3M336.4 563.2L327.9 563.6M331.5 565.1L327.9 563.6L331.3 561.8M354.5 563.2L345.8 563.4M349.5 565.0L345.8 563.4L349.4 561.6M372.7 563.2L364.2 563.2M367.8 564.8L364.2 563.2L367.8 561.5M390.9 563.2L383.0 562.6M386.2 564.4L383.0 562.6L386.4 561.3M409.1 563.2L400.7 562.0M403.9 564.1L400.7 562.0L404.4 560.8M427.3 563.2L418.6 561.3M421.8 563.8L418.6 561.3L422.6 560.4M445.5 563.2L436.4 560.5M439.6 563.4L436.4 560.5L440.7 559.9M463.6 563.2L454.1 560.6M457.6 563.5L454.1 560.6L458.6 559.8M481.8 563.2L472.2 560.8M475.7 563.6L472.2 560.8L476.7 559.9M500.0 563.2L490.5 560.7M494.0 563.6L490.5 560.7L494.9 559.9M518.2 563.2L508.6 560.6M512.1 563.5L508.6 560.6L513.1 559.8M536.4 563.2L526.8 560.4M530.2 563.4L526.8 560.4L531.3 559.7M554.5 563.2L544.8 560.2M548.3 563.3L544.8 560.2L549.4 559.5M572.7 563.2L562.4 559.8M566.1 563.2L562.4 559.8L567.4 559.2M590.9 563.2L580.9 559.6M584.4 563.0L580.9 559.6L585.8 559.1M609.1 563.2L600.3 559.8M603.3 562.9L600.3 559.8L604.6 559.5M627.3 563.2L618.9 559.6M621.7 562.7L618.9 559.6L623.1 559.5M645.5 563.2L637.1 559.4M639.9 562.6L637.1 559.4L641.3 559.3M663.6 563.2L655.4 559.1M658.0 562.4L655.4 559.1L659.6 559.2M681.8 563.2L673.6 559.0M676.2 562.3L673.6 559.0L677.9 559.1M700.0 563.2L691.9 558.8M694.4 562.2L691.9 558.8L696.1 559.0M718.2 563.2L710.2 558.2M712.6 561.8L710.2 558.2L714.5 558.7M736.4 563.2L728.4 557.6M730.6 561.5L728.4 557.6L732.8 558.3M754.5 563.2L746.5 555.7M748.4 560.4L746.5 555.7L751.3 557.2M772.7 563.2L765.5 554.3M766.8 559.4L765.5 554.3L770.3 556.6M790.9 563.2L784.1 553.9M785.1 559.1L784.1 553.9L788.7 556.4M209.1 581.3L199.4 588.7M204.9 587.5L199.4 588.7L202.0 583.7M227.3 581.3L218.5 588.2M223.5 587.1L218.5 588.2L220.8 583.6M245.5 581.3L237.5 586.5M241.8 585.9L237.5 586.5L239.8 582.8M263.6 581.3L256.2 585.3M260.1 585.1L256.2 585.3L258.5 582.2M281.8 581.3L274.1 584.1M277.9 584.5L274.1 584.1L276.8 581.5M300.0 581.3L291.9 583.1M295.6 583.9L291.9 583.1L294.9 580.8M318.2 581.3L309.7 582.5M313.4 583.7L309.7 582.5L313.0 580.3M336.4 581.3L327.5 581.8M331.3 583.3L327.5 581.8L331.1 579.9M354.5 581.3L345.8 581.6M349.5 583.2L345.8 581.6L349.4 579.8M372.7 581.3L364.2 581.3M367.7 583.0L364.2 581.3L367.7 579.7M390.9 581.3L382.8 580.9M386.1 582.7L382.8 580.9L386.3 579.5M409.1 581.3L400.6 580.4M403.9 582.5L400.6 580.4L404.3 579.2M427.3 581.3L418.6 579.9M421.9 582.2L418.6 579.9L422.5 578.8M445.5 581.3L436.6 579.4M439.9 581.9L436.6 579.4L440.7 578.5M463.6 581.3L454.2 579.5M457.8 582.1L454.2 579.5L458.5 578.4M481.8 581.3L472.4 579.7M476.0 582.2L472.4 579.7L476.6 578.5M500.0 581.3L491.2 579.8M494.6 582.2L491.2 579.8L495.2 578.7M518.2 581.3L509.6 579.8M512.9 582.1L509.6 579.8L513.5 578.8M536.4 581.3L528.0 579.7M531.1 582.0L528.0 579.7L531.8 578.8M554.5 581.3L546.2 579.6M549.3 581.9L546.2 579.6L550.0 578.7M572.7 581.3L564.3 579.4M567.4 581.9L564.3 579.4L568.2 578.6M590.9 581.3L582.9 579.3M585.9 581.7L582.9 579.3L586.6 578.6M609.1 581.3L602.2 579.4M604.7 581.5L602.2 579.4L605.4 578.8M627.3 581.3L620.7 579.2M623.0 581.4L620.7 579.2L623.9 578.8M645.5 581.3L639.0 579.0M641.2 581.2L639.0 579.0L642.1 578.7M663.6 581.3L657.2 578.8M659.4 581.1L657.2 578.8L660.4 578.6M681.8 581.3L675.4 578.7M677.6 581.1L675.4 578.7L678.6 578.6M700.0 581.3L693.3 578.6M695.6 581.1L693.3 578.6L696.6 578.5M718.2 581.3L711.1 578.0M713.4 580.8L711.1 578.0L714.7 578.0M736.4 581.3L728.8 577.3M731.2 580.5L728.8 577.3L732.7 577.5M754.5 581.3L746.6 574.7M748.6 579.0L746.6 574.7L751.2 575.9M772.7 581.3L765.7 572.3M766.9 577.5L765.7 572.3L770.4 574.7M790.9 581.3L784.2 571.8M785.2 577.1L784.2 571.8L788.9 574.5M136.4 599.5L129.1 607.9M133.8 605.8L129.1 607.9L130.5 603.0M154.5 599.5L145.3 608.3M150.9 606.4L145.3 608.3L147.5 602.8M172.7 599.5L162.2 608.7M168.4 606.9L162.2 608.7L164.8 602.9M190.9 599.5L179.5 608.8M186.0 607.2L179.5 608.8L182.4 602.7M209.1 599.5L197.9 608.4M204.3 606.9L197.9 608.4L200.8 602.5M227.3 599.5L216.9 607.6M222.8 606.2L216.9 607.6L219.7 602.2M245.5 599.5L235.5 606.0M240.9 605.2L235.5 606.0L238.4 601.4M263.6 599.5L254.3 604.5M259.1 604.3L254.3 604.5L257.2 600.6M281.8 599.5L272.7 603.0M277.2 603.3L272.7 603.0L275.8 599.8M300.0 599.5L290.7 601.7M295.0 602.6L290.7 601.7L294.2 599.0M318.2 599.5L308.9 601.1M313.0 602.2L308.9 601.1L312.4 598.6M336.4 599.5L326.9 600.4M331.0 601.9L326.9 600.4L330.7 598.2M354.5 599.5L345.4 600.0M349.3 601.6L345.4 600.0L349.1 598.0M372.7 599.5L363.8 599.5M367.5 601.3L363.8 599.5L367.5 597.8M390.9 599.5L382.3 599.2M385.8 601.0L382.3 599.2L385.9 597.7M409.1 599.5L400.4 598.9M403.9 600.8L400.4 598.9L404.2 597.5M427.3 599.5L418.6 598.5M422.0 600.6L418.6 598.5L422.4 597.3M445.5 599.5L436.8 598.2M440.1 600.4L436.8 598.2L440.6 597.1M463.6 599.5L454.8 598.3M458.3 600.6L454.8 598.3L458.7 597.1M481.8 599.5L473.3 598.6M476.6 600.6L473.3 598.6L477.0 597.3M500.0 599.5L492.2 598.7M495.3 600.5L492.2 598.7L495.6 597.5M518.2 599.5L510.8 598.8M513.7 600.5L510.8 598.8L514.0 597.6M536.4 599.5L529.5 598.8M532.2 600.4L529.5 598.8L532.5 597.7M554.5 599.5L547.9 598.7M550.5 600.3L547.9 598.7L550.8 597.8M572.7 599.5L566.4 598.6M568.9 600.2L566.4 598.6L569.2 597.8M590.9 599.5L585.3 598.6M587.4 600.1L585.3 598.6L587.8 597.9M609.1 599.5L604.0 598.5M605.9 599.9L604.0 598.5L606.3 597.9M627.3 599.5L622.3 598.4M624.2 599.8L622.3 598.4L624.6 597.9M645.5 599.5L640.5 598.3M642.3 599.8L640.5 598.3L642.8 597.9M663.6 599.5L658.5 598.3M660.4 599.8L658.5 598.3L660.9 597.8M681.8 599.5L676.5 598.3M678.5 599.8L676.5 598.3L678.9 597.8M700.0 599.5L694.1 598.2M696.3 599.9L694.1 598.2L696.8 597.6M718.2 599.5L711.9 597.8M714.2 599.7L711.9 597.8L714.9 597.3M736.4 599.5L729.0 597.0M731.6 599.5L729.0 597.0L732.6 596.6M754.5 599.5L746.2 593.6M748.5 597.7L746.2 593.6L750.8 594.5M772.7 599.5L765.4 590.5M766.7 595.7L765.4 590.5L770.2 592.8M790.9 599.5L784.1 589.8M785.0 595.2L784.1 589.8L788.8 592.5M27.3 617.7L26.8 628.7M29.1 624.2L26.8 628.7L24.8 624.0M45.5 617.7L44.7 626.4M46.7 622.9L44.7 626.4L43.3 622.6M63.6 617.7L61.8 623.4M63.7 621.4L61.8 623.4L61.5 620.7M81.8 617.7L79.9 621.1M81.5 620.0L79.9 621.1L80.0 619.1M100.0 617.7L98.1 620.9M99.7 619.8L98.1 620.9L98.3 618.9M118.2 617.7L115.1 622.7M117.3 621.2L115.1 622.7L115.4 620.0M136.4 617.7L130.1 625.5M134.3 623.5L130.1 625.5L131.2 621.1M154.5 617.7L145.4 626.9M151.0 624.8L145.4 626.9L147.4 621.3M172.7 617.7L162.3 627.6M168.6 625.5L162.3 627.6L164.7 621.5M190.9 617.7L179.7 627.8M186.3 625.8L179.7 627.8L182.4 621.4M209.1 617.7L197.3 627.6M204.1 625.8L197.3 627.6L200.3 621.2M227.3 617.7L216.2 626.4M222.5 624.9L216.2 626.4L219.1 620.6M245.5 617.7L234.8 624.6M240.6 623.8L234.8 624.6L237.9 619.7M263.6 617.7L253.5 623.1M258.8 622.8L253.5 623.1L256.7 618.9M281.8 617.7L272.2 621.5M276.9 621.8L272.2 621.5L275.4 618.0M300.0 617.7L290.5 620.3M294.9 621.0L290.5 620.3L294.0 617.3M318.2 617.7L308.9 619.6M313.2 620.6L308.9 619.6L312.4 617.0M336.4 617.7L326.8 619.0M331.1 620.3L326.8 619.0L330.6 616.6M354.5 617.7L345.0 618.4M349.1 620.0L345.0 618.4L348.8 616.2M372.7 617.7L363.3 617.7M367.3 619.5L363.3 617.7L367.3 615.9M390.9 617.7L382.0 617.5M385.7 619.3L382.0 617.5L385.8 615.9M409.1 617.7L400.3 617.3M403.9 619.2L400.3 617.3L404.1 615.8M427.3 617.7L418.5 617.1M422.0 619.1L418.5 617.1L422.3 615.7M445.5 617.7L436.5 616.9M440.1 619.0L436.5 616.9L440.4 615.5M463.6 617.7L454.8 617.1M458.4 619.1L454.8 617.1L458.6 615.6M481.8 617.7L473.4 617.3M476.9 619.1L473.4 617.3L477.0 615.8M500.0 617.7L492.1 617.4M495.3 619.0L492.1 617.4L495.5 616.0M518.2 617.7L511.0 617.5M513.9 619.0L511.0 617.5L514.0 616.2M536.4 617.7L529.6 617.5M532.3 618.9L529.6 617.5L532.4 616.2M554.5 617.7L548.1 617.5M550.7 618.8L548.1 617.5L550.8 616.3M572.7 617.7L566.9 617.4M569.2 618.6L566.9 617.4L569.4 616.4M590.9 617.7L585.7 617.2M587.8 618.5L585.7 617.2L587.9 616.4M609.1 617.7L604.4 617.2M606.3 618.3L604.4 617.2L606.5 616.5M627.3 617.7L622.7 617.1M624.5 618.2L622.7 617.1L624.7 616.4M645.5 617.7L640.5 617.1M642.4 618.3L640.5 617.1L642.6 616.4M663.6 617.7L658.1 617.2M660.3 618.5L658.1 617.2L660.5 616.3M681.8 617.7L676.1 617.3M678.4 618.6L676.1 617.3L678.6 616.4M700.0 617.7L694.3 617.4M696.6 618.6L694.3 617.4L696.8 616.4M718.2 617.7L712.5 617.1M714.8 618.4L712.5 617.1L715.0 616.2M736.4 617.7L729.6 616.5M732.2 618.3L729.6 616.5L732.6 615.7M754.5 617.7L746.4 613.0M748.9 616.6L746.4 613.0L750.7 613.4M772.7 617.7L765.8 609.5M767.1 614.2L765.8 609.5L770.3 611.6M790.9 617.7L784.6 608.7M785.5 613.7L784.6 608.7L789.0 611.2M9.1 635.9L9.1 648.5M11.5 643.2L9.1 648.5L6.6 643.2M27.3 635.9L27.5 647.2M29.6 642.4L27.5 647.2L25.2 642.5M45.5 635.9L45.8 644.4M47.3 640.8L45.8 644.4L44.0 640.9M63.6 635.9L61.5 640.8M63.4 639.2L61.5 640.8L61.4 638.4M81.8 635.9L79.3 638.0M81.3 637.5L79.3 638.0L80.2 636.2M100.0 635.9L97.6 638.3M99.5 637.6L97.6 638.3L98.3 636.4M118.2 635.9L114.3 640.3M116.8 639.2L114.3 640.3L115.1 637.7M136.4 635.9L129.5 642.9M133.7 641.3L129.5 642.9L131.0 638.7M154.5 635.9L145.2 644.4M150.8 642.7L145.2 644.4L147.4 639.1M172.7 635.9L162.1 645.2M168.4 643.4L162.1 645.2L164.7 639.3M190.9 635.9L179.4 645.6M186.1 643.8L179.4 645.6L182.3 639.3M209.1 635.9L196.6 645.5M203.7 643.9L196.6 645.5L200.0 639.1M227.3 635.9L215.2 644.4M221.9 643.2L215.2 644.4L218.6 638.5M245.5 635.9L233.9 643.0M240.1 642.3L233.9 643.0L237.4 637.8M263.6 635.9L252.8 641.6M258.4 641.3L252.8 641.6L256.2 637.1M281.8 635.9L271.7 640.3M276.8 640.4L271.7 640.3L275.0 636.5M300.0 635.9L290.4 639.2M295.0 639.7L290.4 639.2L293.8 636.0M318.2 635.9L309.0 638.9M313.4 639.4L309.0 638.9L312.2 635.9M336.4 635.9L327.7 638.6M331.8 639.2L327.7 638.6L330.8 635.8M354.5 635.9L345.8 638.0M349.9 638.8L345.8 638.0L349.0 635.4M372.7 635.9L363.9 637.4M367.9 638.5L363.9 637.4L367.3 635.1M390.9 635.9L382.2 636.9M386.0 638.2L382.2 636.9L385.6 634.8M409.1 635.9L400.4 636.5M404.1 637.9L400.4 636.5L403.9 634.5M427.3 635.9L418.3 636.0M422.1 637.7L418.3 636.0L422.0 634.2M445.5 635.9L435.9 635.5M439.8 637.5L435.9 635.5L440.0 633.8M463.6 635.9L453.9 635.2M457.8 637.4L453.9 635.2L458.1 633.6M481.8 635.9L472.0 634.9M475.9 637.3L472.0 634.9L476.3 633.4M500.0 635.9L490.3 635.0M494.2 637.3L490.3 635.0L494.5 633.5M518.2 635.9L509.1 635.1M512.8 637.2L509.1 635.1L513.1 633.7M536.4 635.9L527.8 635.1M531.2 637.1L527.8 635.1L531.5 633.8M554.5 635.9L546.6 635.2M549.8 637.0L546.6 635.2L550.0 633.9M572.7 635.9L565.2 635.1M568.2 636.9L565.2 635.1L568.5 633.9M590.9 635.9L584.0 635.0M586.7 636.7L584.0 635.0L587.0 634.0M609.1 635.9L602.5 634.8M605.0 636.5L602.5 634.8L605.5 634.0M627.3 635.9L620.5 634.5M623.1 636.4L620.5 634.5L623.6 633.8M645.5 635.9L637.9 634.0M640.7 636.3L637.9 634.0L641.4 633.3M663.6 635.9L655.8 633.6M658.6 636.1L655.8 633.6L659.5 633.0M681.8 635.9L674.2 633.4M676.9 636.0L674.2 633.4L677.8 633.0M700.0 635.9L693.3 633.6M695.7 635.8L693.3 633.6L696.5 633.2M718.2 635.9L712.1 634.5M714.4 636.3L712.1 634.5L714.9 633.9M736.4 635.9L729.8 635.1M732.4 636.7L729.8 635.1L732.7 634.2M754.5 635.9L746.9 632.4M749.4 635.4L746.9 632.4L750.8 632.4M772.7 635.9L765.6 629.4M767.3 633.5L765.6 629.4L769.8 630.7M790.9 635.9L784.8 627.9M785.8 632.4L784.8 627.9L788.9 630.1M9.1 654.1L9.1 664.3M11.1 660.0L9.1 664.3L7.1 660.0M27.3 654.1L28.1 663.6M29.6 659.5L28.1 663.6L25.9 659.8M45.5 654.1L46.8 661.5M47.6 658.1L46.8 661.5L44.8 658.6M63.6 654.1L61.1 658.4M63.0 657.1L61.1 658.4L61.3 656.1M81.8 654.1L78.6 655.2M80.6 655.4L78.6 655.2L80.0 653.8M100.0 654.1L96.0 656.4M98.1 656.2L96.0 656.4L97.2 654.6M118.2 654.1L112.2 659.1M115.7 658.1L112.2 659.1L113.7 655.8M136.4 654.1L127.9 661.2M132.8 659.9L127.9 661.2L130.0 656.6M154.5 654.1L144.6 662.5M150.3 660.9L144.6 662.5L147.1 657.0M172.7 654.1L161.7 663.0M168.0 661.4L161.7 663.0L164.6 657.1M190.9 654.1L178.9 663.4M185.7 661.9L178.9 663.4L182.1 657.2M209.1 654.1L196.2 663.2M203.3 661.9L196.2 663.2L199.8 656.9M227.3 654.1L214.6 662.1M221.5 661.2L214.6 662.1L218.3 656.3M245.5 654.1L233.6 661.0M239.9 660.4L233.6 661.0L237.2 655.8M263.6 654.1L252.6 659.9M258.3 659.6L252.6 659.9L256.1 655.3M281.8 654.1L271.7 658.9M276.8 658.9L271.7 658.9L275.0 654.9M300.0 654.1L290.6 658.1M295.3 658.2L290.6 658.1L293.7 654.6M318.2 654.1L309.3 658.2M313.8 658.2L309.3 658.2L312.2 654.8M336.4 654.1L328.2 658.2M332.4 658.1L328.2 658.2L330.8 654.9M354.5 654.1L346.5 657.6M350.5 657.7L346.5 657.6L349.2 654.5M372.7 654.1L364.5 657.1M368.5 657.4L364.5 657.1L367.4 654.2M390.9 654.1L382.5 656.3M386.4 657.0L382.5 656.3L385.5 653.8M409.1 654.1L400.5 655.6M404.4 656.6L400.5 655.6L403.8 653.3M427.3 654.1L418.4 654.9M422.2 656.3L418.4 654.9L421.9 652.8M445.5 654.1L435.8 654.1M439.8 655.9L435.8 654.1L439.8 652.2M463.6 654.1L453.6 653.4M457.7 655.6L453.6 653.4L457.9 651.7M481.8 654.1L471.5 652.6M475.5 655.2L471.5 652.6L476.1 651.2M500.0 654.1L489.6 652.6M493.7 655.2L489.6 652.6L494.2 651.2M518.2 654.1L508.1 652.7M512.0 655.2L508.1 652.7L512.6 651.3M536.4 654.1L526.9 652.7M530.6 655.1L526.9 652.7L531.1 651.4M554.5 654.1L545.3 652.8M548.9 655.1L545.3 652.8L549.4 651.5M572.7 654.1L563.6 652.6M567.1 655.0L563.6 652.6L567.7 651.5M590.9 654.1L582.0 652.5M585.4 654.9L582.0 652.5L586.0 651.4M609.1 654.1L600.3 652.1M603.6 654.6L600.3 652.1L604.3 651.2M627.3 654.1L618.6 651.7M621.7 654.4L618.6 651.7L622.6 651.0M645.5 654.1L637.1 650.8M639.9 653.8L637.1 650.8L641.2 650.5M663.6 654.1L655.7 649.8M658.2 653.2L655.7 649.8L659.8 650.1M681.8 654.1L674.4 649.5M676.6 652.9L674.4 649.5L678.4 650.0M700.0 654.1L693.8 649.7M695.6 652.8L693.8 649.7L697.2 650.4M718.2 654.1L712.1 652.0M714.2 654.0L712.1 652.0L715.1 651.7M736.4 654.1L730.1 653.7M732.6 655.1L730.1 653.7L732.8 652.7M754.5 654.1L747.5 651.6M749.9 654.0L747.5 651.6L750.9 651.3M772.7 654.1L765.5 649.0M767.6 652.5L765.5 649.0L769.5 649.7M790.9 654.1L784.9 646.9M786.0 651.1L784.9 646.9L788.8 648.8M9.1 672.3L5.5 678.5M8.2 676.6L5.5 678.5L5.7 675.2M27.3 672.3L23.7 678.4M26.4 676.5L23.7 678.4L24.0 675.1M45.5 672.3L42.4 677.6M44.7 676.0L42.4 677.6L42.6 674.8M63.6 672.3L59.4 675.1M61.7 674.7L59.4 675.1L60.6 673.1M81.8 672.3L77.1 673.4M79.3 673.8L77.1 673.4L78.9 672.0M100.0 672.3L93.0 675.0M96.5 675.2L93.0 675.0L95.4 672.5M118.2 672.3L108.7 677.5M113.7 677.2L108.7 677.5L111.6 673.5M136.4 672.3L124.9 678.9M131.0 678.3L124.9 678.9L128.4 673.9M154.5 672.3L142.1 679.7M148.8 679.0L142.1 679.7L145.9 674.2M172.7 672.3L159.8 680.1M166.7 679.4L159.8 680.1L163.7 674.3M190.9 672.3L177.4 680.6M184.6 679.7L177.4 680.6L181.4 674.5M209.1 672.3L195.5 680.6M202.8 679.8L195.5 680.6L199.5 674.5M227.3 672.3L214.4 680.0M221.3 679.3L214.4 680.0L218.3 674.3M245.5 672.3L233.5 679.0M239.8 678.5L233.5 679.0L237.2 673.9M263.6 672.3L252.6 678.1M258.3 677.8L252.6 678.1L256.1 673.5M281.8 672.3L271.7 677.2M276.9 677.1L271.7 677.2L275.0 673.2M300.0 672.3L290.7 676.5M295.4 676.5L290.7 676.5L293.7 672.9M318.2 672.3L309.2 676.6M313.8 676.5L309.2 676.6L312.1 673.0M336.4 672.3L327.8 676.6M332.2 676.5L327.8 676.6L330.5 673.1M354.5 672.3L346.2 675.9M350.4 676.0L346.2 675.9L349.0 672.7M372.7 672.3L364.5 675.3M368.5 675.6L364.5 675.3L367.3 672.4M390.9 672.3L382.4 674.5M386.4 675.2L382.4 674.5L385.5 671.9M409.1 672.3L400.5 673.7M404.3 674.8L400.5 673.7L403.8 671.4M427.3 672.3L418.5 672.9M422.3 674.3L418.5 672.9L422.0 670.9M445.5 672.3L436.4 672.1M440.1 673.9L436.4 672.1L440.2 670.4M463.6 672.3L453.9 671.2M457.8 673.5L453.9 671.2L458.2 669.8M481.8 672.3L471.6 670.3M475.5 673.1L471.6 670.3L476.3 669.1M500.0 672.3L489.7 670.2M493.6 673.1L489.7 670.2L494.4 669.1M518.2 672.3L507.9 670.2M511.8 673.0L507.9 670.2L512.6 669.0M536.4 672.3L526.3 670.2M530.1 673.0L526.3 670.2L530.9 669.1M554.5 672.3L544.5 670.2M548.3 673.0L544.5 670.2L549.1 669.1M572.7 672.3L562.7 670.0M566.5 672.9L562.7 670.0L567.3 669.0M590.9 672.3L580.9 669.9M584.6 672.8L580.9 669.9L585.6 668.9M609.1 672.3L599.2 669.4M602.8 672.5L599.2 669.4L603.9 668.7M627.3 672.3L617.8 669.1M621.1 672.2L617.8 669.1L622.4 668.6M645.5 672.3L637.0 668.5M639.8 671.7L637.0 668.5L641.3 668.5M663.6 672.3L655.8 667.9M658.2 671.2L655.8 667.9L659.9 668.2M681.8 672.3L674.5 667.8M676.7 671.1L674.5 667.8L678.4 668.2M700.0 672.3L693.9 668.1M695.6 671.0L693.9 668.1L697.2 668.7M718.2 672.3L712.5 670.0M714.4 672.1L712.5 670.0L715.3 669.8M736.4 672.3L730.7 671.4M732.9 672.8L730.7 671.4L733.3 670.6M754.5 672.3L748.4 670.2M750.6 672.3L748.4 670.2L751.4 669.9M772.7 672.3L766.0 668.7M768.1 671.5L766.0 668.7L769.5 668.9M790.9 672.3L784.6 667.0M786.2 670.4L784.6 667.0L788.3 667.9M9.1 690.4L4.2 693.2M6.8 693.0L4.2 693.2L5.7 691.1M27.3 690.4L22.0 692.9M24.7 692.9L22.0 692.9L23.7 690.8M45.5 690.4L39.6 692.6M42.5 692.8L39.6 692.6L41.6 690.5M63.6 690.4L57.5 692.0M60.3 692.5L57.5 692.0L59.7 690.1M81.8 690.4L74.3 691.5M77.7 692.5L74.3 691.5L77.2 689.6M100.0 690.4L89.6 692.8M94.4 693.9L89.6 692.8L93.4 689.8M118.2 690.4L105.6 694.5M111.6 695.3L105.6 694.5L110.0 690.4M136.4 690.4L122.6 695.4M129.3 696.0L122.6 695.4L127.4 690.7M154.5 690.4L140.4 696.2M147.4 696.5L140.4 696.2L145.2 691.0M172.7 690.4L158.1 696.8M165.5 697.0L158.1 696.8L163.0 691.3M190.9 690.4L176.2 697.3M183.7 697.3L176.2 697.3L181.0 691.6M209.1 690.4L194.9 697.8M202.2 697.5L194.9 697.8L199.4 692.0M227.3 690.4L214.3 697.9M221.2 697.3L214.3 697.9L218.2 692.3M245.5 690.4L233.4 697.1M239.7 696.7L233.4 697.1L237.1 692.0M263.6 690.4L252.6 696.3M258.3 696.0L252.6 696.3L256.0 691.7M281.8 690.4L271.6 695.6M276.9 695.4L271.6 695.6L274.9 691.5M300.0 690.4L290.6 695.0M295.4 694.9L290.6 695.0L293.6 691.3M318.2 690.4L309.0 695.0M313.7 694.9L309.0 695.0L312.0 691.3M336.4 690.4L327.4 695.0M332.0 694.8L327.4 695.0L330.3 691.4M354.5 690.4L345.7 694.3M350.1 694.4L345.7 694.3L348.6 691.0M372.7 690.4L364.2 693.6M368.3 693.9L364.2 693.6L367.1 690.6M390.9 690.4L382.4 692.6M386.4 693.4L382.4 692.6L385.5 690.1M409.1 690.4L400.4 691.8M404.3 692.9L400.4 691.8L403.8 689.6M427.3 690.4L418.5 691.0M422.3 692.5L418.5 691.0L422.1 689.0M445.5 690.4L436.6 690.1M440.2 692.0L436.6 690.1L440.4 688.5M463.6 690.4L454.4 689.1M458.0 691.5L454.4 689.1L458.5 687.9M481.8 690.4L471.9 688.0M475.6 690.9L471.9 688.0L476.5 687.1M500.0 690.4L489.9 687.8M493.6 690.9L489.9 687.8L494.6 686.9M518.2 690.4L507.9 687.7M511.7 690.8L507.9 687.7L512.7 686.8M536.4 690.4L526.1 687.7M529.8 690.8L526.1 687.7L530.9 686.8M554.5 690.4L544.3 687.7M548.0 690.8L544.3 687.7L549.1 686.8M572.7 690.4L562.5 687.5M566.2 690.7L562.5 687.5L567.3 686.7M590.9 690.4L580.7 687.3M584.4 690.6L580.7 687.3L585.6 686.6M609.1 690.4L599.1 686.9M602.6 690.3L599.1 686.9L603.9 686.4M627.3 690.4L617.7 686.6M620.9 690.0L617.7 686.6L622.4 686.3M645.5 690.4L636.9 686.3M639.7 689.7L636.9 686.3L641.3 686.4M663.6 690.4L655.7 685.9M658.1 689.3L655.7 685.9L659.9 686.2M681.8 690.4L674.4 685.9M676.6 689.2L674.4 685.9L678.4 686.4M700.0 690.4L693.5 686.2M695.4 689.2L693.5 686.2L697.0 686.7M718.2 690.4L712.3 687.8M714.3 690.1L712.3 687.8L715.3 687.8M736.4 690.4L731.1 689.0M733.0 690.6L731.1 689.0L733.6 688.6M754.5 690.4L749.5 688.8M751.3 690.5L749.5 688.8L751.9 688.5M772.7 690.4L767.4 688.5M769.2 690.3L767.4 688.5L770.0 688.3M790.9 690.4L785.4 687.2M787.0 689.6L785.4 687.2L788.3 687.5M9.1 708.6L0.8 712.9M5.1 712.7L0.8 712.9L3.4 709.5M27.3 708.6L18.5 712.7M23.0 712.7L18.5 712.7L21.4 709.3M45.5 708.6L35.8 712.6M40.6 712.8L35.8 712.6L39.1 709.1M63.6 708.6L53.3 712.3M58.3 712.7L53.3 712.3L56.9 708.7M81.8 708.6L70.4 712.0M75.8 712.8L70.4 712.0L74.5 708.4M100.0 708.6L87.3 713.2M93.5 713.7L87.3 713.2L91.7 708.8M118.2 708.6L104.6 714.4M111.4 714.6L104.6 714.4L109.1 709.3M136.4 708.6L122.4 715.0M129.5 715.0L122.4 715.0L127.0 709.6M154.5 708.6L140.2 715.6M147.6 715.5L140.2 715.6L144.8 709.9M172.7 708.6L158.3 715.9M165.7 715.7L158.3 715.9L162.9 710.1M190.9 708.6L176.5 716.1M184.0 715.8L176.5 716.1L181.0 710.2M209.1 708.6L195.1 716.5M202.5 715.9L195.1 716.5L199.4 710.5M227.3 708.6L214.4 716.4M221.3 715.6L214.4 716.4L218.3 710.7M245.5 708.6L233.5 715.5M239.8 715.0L233.5 715.5L237.1 710.3M263.6 708.6L252.4 714.8M258.3 714.4L252.4 714.8L255.9 710.0M281.8 708.6L271.1 714.2M276.7 714.0L271.1 714.2L274.5 709.8M300.0 708.6L289.9 713.6M295.1 713.5L289.9 713.6L293.1 709.6M318.2 708.6L308.4 713.5M313.4 713.4L308.4 713.5L311.5 709.6M336.4 708.6L327.1 713.4M331.9 713.2L327.1 713.4L330.0 709.6M354.5 708.6L345.3 712.6M349.9 712.8L345.3 712.6L348.4 709.2M372.7 708.6L363.6 712.0M368.0 712.3L363.6 712.0L366.7 708.8M390.9 708.6L382.0 710.9M386.2 711.7L382.0 710.9L385.3 708.2M409.1 708.6L400.3 709.9M404.2 711.1L400.3 709.9L403.7 707.7M427.3 708.6L418.4 709.0M422.2 710.6L418.4 709.0L422.0 707.1M445.5 708.6L436.3 708.1M440.0 710.1L436.3 708.1L440.2 706.6M463.6 708.6L454.0 706.9M457.7 709.5L454.0 706.9L458.3 705.7M481.8 708.6L472.0 705.6M475.5 708.8L472.0 705.6L476.7 705.0M500.0 708.6L490.0 705.4M493.6 708.7L490.0 705.4L494.8 704.8M518.2 708.6L507.8 705.1M511.4 708.6L507.8 705.1L512.8 704.6M536.4 708.6L525.8 705.1M529.5 708.6L525.8 705.1L530.9 704.5M554.5 708.6L544.0 705.1M547.7 708.6L544.0 705.1L549.1 704.5M572.7 708.6L562.3 704.9M565.9 708.5L562.3 704.9L567.3 704.4M590.9 708.6L580.5 704.7M584.1 708.4L580.5 704.7L585.6 704.3M609.1 708.6L598.7 704.2M602.2 708.1L598.7 704.2L603.9 704.0M627.3 708.6L617.1 703.9M620.4 707.8L617.1 703.9L622.3 703.9M645.5 708.6L635.8 703.5M638.8 707.5L635.8 703.5L640.8 703.7M663.6 708.6L654.4 703.0M657.1 707.2L654.4 703.0L659.3 703.6M681.8 708.6L672.7 703.0M675.4 707.1L672.7 703.0L677.6 703.6M700.0 708.6L691.3 703.1M693.8 707.1L691.3 703.1L696.0 703.7M718.2 708.6L710.2 704.1M712.7 707.5L710.2 704.1L714.4 704.5M736.4 708.6L729.9 705.4M732.0 708.0L729.9 705.4L733.2 705.5M754.5 708.6L749.7 706.3M751.2 708.2L749.7 706.3L752.2 706.3M772.7 708.6L768.9 706.8M770.1 708.3L768.9 706.8L770.9 706.8M790.9 708.6L786.9 707.2M788.3 708.6L786.9 707.2L788.9 707.0M9.1 726.8L-2.4 732.2M3.4 732.2L-2.4 732.2L1.3 727.7M27.3 726.8L15.3 732.4M21.4 732.4L15.3 732.4L19.2 727.7M45.5 726.8L33.1 732.6M39.4 732.6L33.1 732.6L37.1 727.8M63.6 726.8L50.6 732.9M57.2 732.9L50.6 732.9L54.9 727.8M81.8 726.8L68.4 733.0M75.2 733.0L68.4 733.0L72.8 727.8M100.0 726.8L86.4 733.6M93.4 733.4L86.4 733.6L90.8 728.1M118.2 726.8L104.0 734.3M111.4 733.9L104.0 734.3L108.5 728.4M136.4 726.8L122.1 734.7M129.6 734.2L122.1 734.7L126.5 728.6M154.5 726.8L140.3 735.0M147.8 734.4L140.3 735.0L144.6 728.8M172.7 726.8L158.5 735.0M166.0 734.4L158.5 735.0L162.8 728.8M190.9 726.8L176.8 734.9M184.3 734.3L176.8 734.9L181.1 728.8M209.1 726.8L195.4 735.1M202.7 734.3L195.4 735.1L199.5 729.0M227.3 726.8L214.6 734.9M221.4 734.0L214.6 734.9L218.3 729.0M245.5 726.8L233.4 734.1M239.8 733.4L233.4 734.1L237.0 728.7M263.6 726.8L252.0 733.5M258.1 733.0L252.0 733.5L255.5 728.4M281.8 726.8L270.7 732.8M276.5 732.5L270.7 732.8L274.2 728.1M300.0 726.8L289.5 732.1M294.9 731.9L289.5 732.1L292.9 727.9M318.2 726.8L307.9 732.0M313.2 731.9L307.9 732.0L311.2 727.9M336.4 726.8L326.4 731.9M331.5 731.7L326.4 731.9L329.5 727.8M354.5 726.8L344.9 731.0M349.7 731.1L344.9 731.0L348.1 727.4M372.7 726.8L363.0 730.3M367.8 730.7L363.0 730.3L366.4 727.0M390.9 726.8L381.2 729.2M385.7 730.1L381.2 729.2L384.8 726.3M409.1 726.8L399.9 728.1M404.0 729.3L399.9 728.1L403.5 725.8M427.3 726.8L418.0 727.1M421.9 728.8L418.0 727.1L421.8 725.2M445.5 726.8L435.5 726.1M439.5 728.3L435.5 726.1L439.8 724.5M463.6 726.8L453.4 724.6M457.3 727.5L453.4 724.6L458.1 723.5M481.8 726.8L471.6 723.1M475.1 726.6L471.6 723.1L476.6 722.6M500.0 726.8L489.7 722.8M493.2 726.5L489.7 722.8L494.8 722.5M518.2 726.8L507.8 722.6M511.3 726.4L507.8 722.6L512.9 722.3M536.4 726.8L525.9 722.6M529.4 726.4L525.9 722.6L531.1 722.3M554.5 726.8L543.9 722.5M547.5 726.4L543.9 722.5L549.2 722.2M572.7 726.8L562.2 722.3M565.7 726.2L562.2 722.3L567.4 722.1M590.9 726.8L580.3 722.1M583.8 726.1L580.3 722.1L585.6 722.0M609.1 726.8L598.2 721.5M601.7 725.8L598.2 721.5L603.8 721.6M627.3 726.8L616.5 721.0M619.8 725.5L616.5 721.0L622.1 721.3M645.5 726.8L634.9 720.7M638.1 725.3L634.9 720.7L640.5 721.2M663.6 726.8L653.3 720.3M656.3 725.0L653.3 720.3L658.9 721.0M681.8 726.8L671.5 720.3M674.5 725.0L671.5 720.3L677.0 721.0M700.0 726.8L689.7 720.4M692.7 725.0L689.7 720.4L695.2 721.0M718.2 726.8L708.7 720.1M711.3 724.8L708.7 720.1L713.9 721.1M736.4 726.8L728.6 720.8M730.7 724.8L728.6 720.8L733.0 721.8M754.5 726.8L748.3 722.6M750.1 725.6L748.3 722.6L751.7 723.2M772.7 726.8L767.9 724.0M769.4 726.1L767.9 724.0L770.5 724.2M790.9 726.8L786.2 726.0M788.0 727.2L786.2 726.0L788.3 725.4M9.1 745.0L-3.7 752.8M3.1 752.1L-3.7 752.8L0.1 747.1M27.3 745.0L14.4 753.0M21.3 752.2L14.4 753.0L18.2 747.2M45.5 745.0L32.4 753.3M39.5 752.4L32.4 753.3L36.2 747.3M63.6 745.0L49.9 753.7M57.3 752.7L49.9 753.7L53.9 747.4M81.8 745.0L67.9 753.8M75.4 752.8L67.9 753.8L72.0 747.4M100.0 745.0L86.1 754.1M93.6 753.0L86.1 754.1L90.1 747.6M118.2 745.0L103.8 754.7M111.7 753.4L103.8 754.7L107.9 747.8M136.4 745.0L122.0 754.9M129.9 753.5L122.0 754.9L126.1 748.0M154.5 745.0L140.4 754.9M148.2 753.5L140.4 754.9L144.3 748.0M172.7 745.0L158.6 754.7M166.4 753.4L158.6 754.7L162.6 747.9M190.9 745.0L177.1 754.3M184.7 753.1L177.1 754.3L181.1 747.7M209.1 745.0L195.6 754.0M203.0 752.9L195.6 754.0L199.5 747.6M227.3 745.0L214.5 753.5M221.5 752.5L214.5 753.5L218.2 747.5M245.5 745.0L233.0 752.8M239.7 752.0L233.0 752.8L236.7 747.1M263.6 745.0L251.6 752.1M258.0 751.5L251.6 752.1L255.2 746.8M281.8 745.0L270.1 751.5M276.2 751.1L270.1 751.5L273.7 746.5M300.0 745.0L288.7 750.9M294.6 750.6L288.7 750.9L292.3 746.2M318.2 745.0L307.0 750.8M312.8 750.5L307.0 750.8L310.5 746.2M336.4 745.0L325.3 750.6M331.0 750.4L325.3 750.6L328.8 746.1M354.5 745.0L343.9 749.6M349.2 749.8L343.9 749.6L347.4 745.6M372.7 745.0L362.0 748.9M367.3 749.3L362.0 748.9L365.7 745.2M390.9 745.0L380.1 747.7M385.1 748.7L380.1 747.7L384.1 744.4M409.1 745.0L398.6 746.5M403.3 747.9L398.6 746.5L402.7 743.8M427.3 745.0L416.7 745.3M421.2 747.2L416.7 745.3L421.1 743.1M445.5 745.0L434.3 744.1M438.8 746.6L434.3 744.1L439.1 742.3M463.6 745.0L452.5 742.6M456.7 745.7L452.5 742.6L457.6 741.4M481.8 745.0L471.0 741.0M474.7 744.8L471.0 741.0L476.3 740.6M500.0 745.0L489.1 740.8M492.8 744.7L489.1 740.8L494.5 740.4M518.2 745.0L507.3 740.6M511.0 744.5L507.3 740.6L512.7 740.3M536.4 745.0L525.4 740.5M529.1 744.5L525.4 740.5L530.8 740.3M554.5 745.0L543.1 740.4M547.0 744.5L543.1 740.4L548.8 740.1M572.7 745.0L561.2 740.1M565.1 744.4L561.2 740.1L567.0 739.9M590.9 745.0L579.4 739.9M583.2 744.2L579.4 739.9L585.2 739.8M609.1 745.0L597.7 739.4M601.4 744.0L597.7 739.4L603.5 739.5M627.3 745.0L616.0 739.0M619.6 743.7L616.0 739.0L621.9 739.3M645.5 745.0L634.5 738.7M637.8 743.4L634.5 738.7L640.3 739.2M663.6 745.0L652.9 738.3M656.1 743.2L652.9 738.3L658.7 739.0M681.8 745.0L671.1 738.3M674.3 743.2L671.1 738.3L676.9 739.0M700.0 745.0L689.3 738.3M692.4 743.2L689.3 738.3L695.1 739.0M718.2 745.0L707.9 737.8M710.8 742.8L707.9 737.8L713.6 738.8M736.4 745.0L726.9 737.6M729.4 742.5L726.9 737.6L732.3 738.8M754.5 745.0L746.1 738.4M748.3 742.8L746.1 738.4L750.9 739.5M772.7 745.0L765.2 739.2M767.2 743.1L765.2 739.2L769.5 740.1M790.9 745.0L783.2 741.0M785.6 744.1L783.2 741.0L787.2 741.1M9.1 763.2L-4.2 773.6M3.3 771.8L-4.2 773.6L-0.7 766.6M27.3 763.2L14.1 773.8M21.7 771.9L14.1 773.8L17.5 766.8M45.5 763.2L32.3 774.2M39.9 772.1L32.3 774.2L35.6 767.0M63.6 763.2L49.9 774.7M57.9 772.6L49.9 774.7L53.4 767.2M81.8 763.2L67.9 774.8M76.0 772.7L67.9 774.8L71.4 767.3M100.0 763.2L86.0 774.9M94.1 772.7L86.0 774.9L89.6 767.3M118.2 763.2L104.1 775.0M112.3 772.8L104.1 775.0L107.7 767.3M136.4 763.2L122.4 774.9M130.5 772.7L122.4 774.9L125.9 767.3M154.5 763.2L141.0 774.5M148.9 772.4L141.0 774.5L144.4 767.2M172.7 763.2L159.2 774.1M167.0 772.2L159.2 774.1L162.7 766.9M190.9 763.2L177.3 773.8M185.0 772.0L177.3 773.8L180.9 766.7M209.1 763.2L195.4 773.3M203.1 771.7L195.4 773.3L199.2 766.4M227.3 763.2L214.2 772.3M221.4 771.1L214.2 772.3L217.8 766.0M245.5 763.2L232.8 771.5M239.7 770.5L232.8 771.5L236.5 765.5M263.6 763.2L251.2 770.8M257.9 770.0L251.2 770.8L254.9 765.2M281.8 763.2L269.8 770.0M276.1 769.5L269.8 770.0L273.5 764.8M300.0 763.2L288.0 769.5M294.3 769.2L288.0 769.5L291.8 764.5M318.2 763.2L306.2 769.4M312.4 769.2L306.2 769.4L309.9 764.5M336.4 763.2L324.5 769.2M330.6 769.0L324.5 769.2L328.2 764.4M354.5 763.2L343.0 768.2M348.8 768.3L343.0 768.2L346.8 763.8M372.7 763.2L361.1 767.4M366.8 767.9L361.1 767.4L365.1 763.4M390.9 763.2L379.0 766.1M384.5 767.2L379.0 766.1L383.4 762.6M409.1 763.2L397.1 764.8M402.4 766.5L397.1 764.8L401.8 761.8M427.3 763.2L415.2 763.5M420.3 765.7L415.2 763.5L420.2 761.0M445.5 763.2L433.2 762.1M438.1 764.9L433.2 762.1L438.5 760.2M463.6 763.2L451.6 760.5M456.1 763.9L451.6 760.5L457.1 759.3M481.8 763.2L470.2 758.9M474.2 763.0L470.2 758.9L475.8 758.4M500.0 763.2L487.9 758.5M492.0 762.8L487.9 758.5L493.8 758.1M518.2 763.2L506.0 758.2M510.1 762.7L506.0 758.2L512.0 757.9M536.4 763.2L524.1 758.2M528.2 762.7L524.1 758.2L530.2 757.9M554.5 763.2L542.1 758.1M546.3 762.7L542.1 758.1L548.3 757.8M572.7 763.2L560.3 757.9M564.5 762.5L560.3 757.9L566.5 757.7M590.9 763.2L578.6 757.7M582.7 762.4L578.6 757.7L584.8 757.6M609.1 763.2L597.0 757.3M600.9 762.1L597.0 757.3L603.2 757.4M627.3 763.2L615.5 756.9M619.2 761.8L615.5 756.9L621.6 757.2M645.5 763.2L634.1 756.6M637.5 761.5L634.1 756.6L640.1 757.1M663.6 763.2L652.5 756.2M655.8 761.3L652.5 756.2L658.5 757.0M681.8 763.2L670.7 756.2M674.0 761.3L670.7 756.2L676.7 757.0M700.0 763.2L688.9 756.2M692.2 761.3L688.9 756.2L694.9 757.0M718.2 763.2L707.5 755.7M710.5 760.9L707.5 755.7L713.4 756.7M736.4 763.2L726.2 755.2M728.9 760.5L726.2 755.2L732.0 756.5M754.5 763.2L745.3 755.0M747.6 760.2L745.3 755.0L750.8 756.6M772.7 763.2L764.3 754.7M766.2 759.9L764.3 754.7L769.5 756.6M790.9 763.2L782.6 754.9M784.5 759.9L782.6 754.9L787.7 756.7" fill="none" stroke="#fff" stroke-width="1.1" shape-rendering="crispEdges"/>
<path d="M9.09 27V772.5M81.82 27V772.5M154.55 27V772.5M227.27 27V772.5M300.00 27V772.5M372.73 27V772.5M445.45 27V772.5M518.18 27V772.5M590.91 27V772.5M663.64 27V772.5M736.36 27V772.5M0 36.59H800M0 109.32H800M0 182.05H800M0 254.77H800M0 327.50H800M0 400.23H800M0 472.95H800M0 545.68H800M0 618.41H800M0 691.14H800M0 763.86H800" fill="none" stroke="#808080" stroke-width="1" shape-rendering="crispEdges"/>
<polyline points="241.9,27.0 235.0,31.0 232.3,43.5 228.0,57.0 224.0,68.0 228.0,76.5 227.3,86.0 221.0,96.0 213.0,100.0 215.8,107.0 215.8,115.0 213.0,120.5 220.7,130.0 211.6,142.5 212.5,156.0 215.0,170.0 217.0,181.0 213.0,188.0 200.6,188.7 196.5,189.0 197.0,199.0 195.0,206.0 189.6,211.0 187.0,225.0 187.7,236.0 192.4,247.0 194.0,243.5 195.0,253.0 198.0,265.5 195.0,272.0 185.5,275.0 194.0,279.0 191.0,286.0 200.6,293.0 207.5,301.0 221.0,309.5 228.0,315.0 251.5,320.5 262.5,329.0 276.0,337.0 286.0,345.0 290.0,359.0 284.5,367.0 275.0,378.0 271.0,389.0 273.5,400.0 284.5,414.0 295.5,422.0 304.0,426.0 317.5,423.6 323.0,433.0 324.4,447.0 324.5,452.0 323.8,466.0 317.5,473.0 310.0,483.0 300.0,497.0 292.5,507.0 282.5,516.0 272.5,523.0 265.0,532.0 261.0,539.5 261.0,549.5 258.8,556.0 250.0,561.0 237.5,567.0 225.0,572.0 212.5,577.0 200.0,581.5 185.0,586.0 165.0,591.0 150.0,596.0 130.0,599.5 110.0,602.0 97.5,606.0 82.5,607.5 32.5,613.0 10.0,617.0 0.0,618.0" fill="none" stroke="#000" stroke-width="0.9"/>
<polyline points="211.6,142.5 215.8,148.0 218.5,167.0 223.0,173.0 222.6,181.0 218.5,188.0 213.0,190.0 201.5,190.0 199.8,197.5 200.6,206.0 196.5,210.0 199.8,215.0 195.0,222.0 196.0,236.0 198.0,247.0 198.0,254.5 210.0,261.0 221.0,268.0 228.0,276.5 235.0,283.0 239.0,287.5 254.0,286.0 271.0,283.0 290.0,285.0 301.0,297.0 312.0,301.0 326.0,308.0 342.0,312.0 345.0,318.0 359.0,320.5 364.0,318.0 372.5,316.0 383.5,312.0 400.0,310.8 417.5,312.0 423.8,317.0 428.8,320.0 437.5,319.0 445.0,320.8 448.8,324.5 462.5,319.5 475.0,314.5 490.0,309.0 496.2,307.0 493.8,300.8 498.8,299.5 500.0,296.5 495.0,295.0 499.0,293.0 501.0,297.0 498.8,303.0 507.5,302.0 510.0,297.0 517.5,292.0 527.5,285.8 535.0,282.0 535.0,277.0 538.8,272.0 545.0,264.5 550.0,254.5 553.8,249.5 556.2,239.5 562.5,234.5 572.5,229.5 576.2,227.0 582.5,220.8 590.0,214.5 600.0,208.2 615.0,192.0 625.0,174.5 632.5,154.5 637.5,139.5 646.2,127.0 656.2,119.5 675.0,102.0 700.0,84.5 725.0,67.0 736.2,59.5 750.0,44.5 765.0,28.2" fill="none" stroke="#000" stroke-width="0.9"/>
<polyline points="551.0,227.0 553.8,230.8 558.8,232.0 562.5,234.5" fill="none" stroke="#000" stroke-width="0.9"/>
<polyline points="372.0,41.5 380.0,42.0 386.0,40.0 390.0,35.0 393.0,31.5 398.0,31.0 400.0,28.5 407.0,27.7 408.8,28.2 418.8,38.2 421.2,45.8 427.5,53.2 441.2,58.2 453.8,67.0 466.2,68.2 482.5,77.0 490.0,88.2 507.5,102.0 511.2,100.2 518.8,104.5 525.0,105.8 530.0,110.8 536.2,113.2 537.5,119.5 542.5,125.8 543.8,134.5 550.0,142.0 560.0,149.5 572.5,153.2 583.2,162.0 580.0,167.0 570.0,173.2 568.0,179.0 560.0,183.2 553.8,188.2 551.2,197.0 553.0,212.0 552.0,227.0" fill="none" stroke="#000" stroke-width="0.9"/>
<polyline points="656.2,119.5 658.8,112.0 653.8,110.8 655.0,116.0 650.0,118.0 645.0,113.2 645.0,107.0 653.8,102.0 646.2,99.5 647.5,92.0 656.2,89.5 657.5,85.8 656.2,78.2 660.0,75.8 662.5,79.5 660.0,85.0 658.8,93.2 662.5,98.2 672.5,99.5 675.0,95.8 685.0,93.2 700.0,83.2 702.5,78.2 701.2,73.2 705.0,71.5 710.0,73.2 720.0,64.5 723.8,54.5 725.0,42.0 732.0,41.0 736.0,40.0" fill="none" stroke="#000" stroke-width="0.9"/>
<polyline points="663.8,64.5 667.5,59.5 677.5,57.0 688.8,54.5 690.0,48.2 700.0,42.0 703.8,37.0 701.2,32.0 702.5,27.0" fill="none" stroke="#000" stroke-width="0.9"/>
<polyline points="736.0,27.0 736.2,42.0 738.8,45.8 740.0,41.0 737.0,40.0" fill="none" stroke="#000" stroke-width="0.9"/>
<path d="M0 27.5H800M0.5 27V772.5M1.82 27V32.0M1.82 772.5V768.0M9.09 27V45.0M9.09 772.5V755.5M16.36 27V32.0M16.36 772.5V768.0M23.64 27V32.0M23.64 772.5V768.0M30.91 27V32.0M30.91 772.5V768.0M38.18 27V32.0M38.18 772.5V768.0M45.45 27V36.5M45.45 772.5V764.0M52.73 27V32.0M52.73 772.5V768.0M60.00 27V32.0M60.00 772.5V768.0M67.27 27V32.0M67.27 772.5V768.0M74.55 27V32.0M74.55 772.5V768.0M81.82 27V45.0M81.82 772.5V755.5M89.09 27V32.0M89.09 772.5V768.0M96.36 27V32.0M96.36 772.5V768.0M103.64 27V32.0M103.64 772.5V768.0M110.91 27V32.0M110.91 772.5V768.0M118.18 27V36.5M118.18 772.5V764.0M125.45 27V32.0M125.45 772.5V768.0M132.73 27V32.0M132.73 772.5V768.0M140.00 27V32.0M140.00 772.5V768.0M147.27 27V32.0M147.27 772.5V768.0M154.55 27V45.0M154.55 772.5V755.5M161.82 27V32.0M161.82 772.5V768.0M169.09 27V32.0M169.09 772.5V768.0M176.36 27V32.0M176.36 772.5V768.0M183.64 27V32.0M183.64 772.5V768.0M190.91 27V36.5M190.91 772.5V764.0M198.18 27V32.0M198.18 772.5V768.0M205.45 27V32.0M205.45 772.5V768.0M212.73 27V32.0M212.73 772.5V768.0M220.00 27V32.0M220.00 772.5V768.0M227.27 27V45.0M227.27 772.5V755.5M234.55 27V32.0M234.55 772.5V768.0M241.82 27V32.0M241.82 772.5V768.0M249.09 27V32.0M249.09 772.5V768.0M256.36 27V32.0M256.36 772.5V768.0M263.64 27V36.5M263.64 772.5V764.0M270.91 27V32.0M270.91 772.5V768.0M278.18 27V32.0M278.18 772.5V768.0M285.45 27V32.0M285.45 772.5V768.0M292.73 27V32.0M292.73 772.5V768.0M300.00 27V45.0M300.00 772.5V755.5M307.27 27V32.0M307.27 772.5V768.0M314.55 27V32.0M314.55 772.5V768.0M321.82 27V32.0M321.82 772.5V768.0M329.09 27V32.0M329.09 772.5V768.0M336.36 27V36.5M336.36 772.5V764.0M343.64 27V32.0M343.64 772.5V768.0M350.91 27V32.0M350.91 772.5V768.0M358.18 27V32.0M358.18 772.5V768.0M365.45 27V32.0M365.45 772.5V768.0M372.73 27V45.0M372.73 772.5V755.5M380.00 27V32.0M380.00 772.5V768.0M387.27 27V32.0M387.27 772.5V768.0M394.55 27V32.0M394.55 772.5V768.0M401.82 27V32.0M401.82 772.5V768.0M409.09 27V36.5M409.09 772.5V764.0M416.36 27V32.0M416.36 772.5V768.0M423.64 27V32.0M423.64 772.5V768.0M430.91 27V32.0M430.91 772.5V768.0M438.18 27V32.0M438.18 772.5V768.0M445.45 27V45.0M445.45 772.5V755.5M452.73 27V32.0M452.73 772.5V768.0M460.00 27V32.0M460.00 772.5V768.0M467.27 27V32.0M467.27 772.5V768.0M474.55 27V32.0M474.55 772.5V768.0M481.82 27V36.5M481.82 772.5V764.0M489.09 27V32.0M489.09 772.5V768.0M496.36 27V32.0M496.36 772.5V768.0M503.64 27V32.0M503.64 772.5V768.0M510.91 27V32.0M510.91 772.5V768.0M518.18 27V45.0M518.18 772.5V755.5M525.45 27V32.0M525.45 772.5V768.0M532.73 27V32.0M532.73 772.5V768.0M540.00 27V32.0M540.00 772.5V768.0M547.27 27V32.0M547.27 772.5V768.0M554.55 27V36.5M554.55 772.5V764.0M561.82 27V32.0M561.82 772.5V768.0M569.09 27V32.0M569.09 772.5V768.0M576.36 27V32.0M576.36 772.5V768.0M583.64 27V32.0M583.64 772.5V768.0M590.91 27V45.0M590.91 772.5V755.5M598.18 27V32.0M598.18 772.5V768.0M605.45 27V32.0M605.45 772.5V768.0M612.73 27V32.0M612.73 772.5V768.0M620.00 27V32.0M620.00 772.5V768.0M627.27 27V36.5M627.27 772.5V764.0M634.55 27V32.0M634.55 772.5V768.0M641.82 27V32.0M641.82 772.5V768.0M649.09 27V32.0M649.09 772.5V768.0M656.36 27V32.0M656.36 772.5V768.0M663.64 27V45.0M663.64 772.5V755.5M670.91 27V32.0M670.91 772.5V768.0M678.18 27V32.0M678.18 772.5V768.0M685.45 27V32.0M685.45 772.5V768.0M692.73 27V32.0M692.73 772.5V768.0M700.00 27V36.5M700.00 772.5V764.0M707.27 27V32.0M707.27 772.5V768.0M714.55 27V32.0M714.55 772.5V768.0M721.82 27V32.0M721.82 772.5V768.0M729.09 27V32.0M729.09 772.5V768.0M736.36 27V45.0M736.36 772.5V755.5M743.64 27V32.0M743.64 772.5V768.0M750.91 27V32.0M750.91 772.5V768.0M758.18 27V32.0M758.18 772.5V768.0M765.45 27V32.0M765.45 772.5V768.0M772.73 27V36.5M772.73 772.5V764.0M780.00 27V32.0M780.00 772.5V768.0M787.27 27V32.0M787.27 772.5V768.0M794.55 27V32.0M794.55 772.5V768.0M0 29.32H4.0M800 29.32H796.0M0 36.59H17.5M800 36.59H782.5M0 43.86H4.0M800 43.86H796.0M0 51.14H4.0M800 51.14H796.0M0 58.41H4.0M800 58.41H796.0M0 65.68H4.0M800 65.68H796.0M0 72.95H8.5M800 72.95H791.5M0 80.23H4.0M800 80.23H796.0M0 87.50H4.0M800 87.50H796.0M0 94.77H4.0M800 94.77H796.0M0 102.05H4.0M800 102.05H796.0M0 109.32H17.5M800 109.32H782.5M0 116.59H4.0M800 116.59H796.0M0 123.86H4.0M800 123.86H796.0M0 131.14H4.0M800 131.14H796.0M0 138.41H4.0M800 138.41H796.0M0 145.68H8.5M800 145.68H791.5M0 152.95H4.0M800 152.95H796.0M0 160.23H4.0M800 160.23H796.0M0 167.50H4.0M800 167.50H796.0M0 174.77H4.0M800 174.77H796.0M0 182.05H17.5M800 182.05H782.5M0 189.32H4.0M800 189.32H796.0M0 196.59H4.0M800 196.59H796.0M0 203.86H4.0M800 203.86H796.0M0 211.14H4.0M800 211.14H796.0M0 218.41H8.5M800 218.41H791.5M0 225.68H4.0M800 225.68H796.0M0 232.95H4.0M800 232.95H796.0M0 240.23H4.0M800 240.23H796.0M0 247.50H4.0M800 247.50H796.0M0 254.77H17.5M800 254.77H782.5M0 262.05H4.0M800 262.05H796.0M0 269.32H4.0M800 269.32H796.0M0 276.59H4.0M800 276.59H796.0M0 283.86H4.0M800 283.86H796.0M0 291.14H8.5M800 291.14H791.5M0 298.41H4.0M800 298.41H796.0M0 305.68H4.0M800 305.68H796.0M0 312.95H4.0M800 312.95H796.0M0 320.23H4.0M800 320.23H796.0M0 327.50H17.5M800 327.50H782.5M0 334.77H4.0M800 334.77H796.0M0 342.05H4.0M800 342.05H796.0M0 349.32H4.0M800 349.32H796.0M0 356.59H4.0M800 356.59H796.0M0 363.86H8.5M800 363.86H791.5M0 371.14H4.0M800 371.14H796.0M0 378.41H4.0M800 378.41H796.0M0 385.68H4.0M800 385.68H796.0M0 392.95H4.0M800 392.95H796.0M0 400.23H17.5M800 400.23H782.5M0 407.50H4.0M800 407.50H796.0M0 414.77H4.0M800 414.77H796.0M0 422.05H4.0M800 422.05H796.0M0 429.32H4.0M800 429.32H796.0M0 436.59H8.5M800 436.59H791.5M0 443.86H4.0M800 443.86H796.0M0 451.14H4.0M800 451.14H796.0M0 458.41H4.0M800 458.41H796.0M0 465.68H4.0M800 465.68H796.0M0 472.95H17.5M800 472.95H782.5M0 480.23H4.0M800 480.23H796.0M0 487.50H4.0M800 487.50H796.0M0 494.77H4.0M800 494.77H796.0M0 502.05H4.0M800 502.05H796.0M0 509.32H8.5M800 509.32H791.5M0 516.59H4.0M800 516.59H796.0M0 523.86H4.0M800 523.86H796.0M0 531.14H4.0M800 531.14H796.0M0 538.41H4.0M800 538.41H796.0M0 545.68H17.5M800 545.68H782.5M0 552.95H4.0M800 552.95H796.0M0 560.23H4.0M800 560.23H796.0M0 567.50H4.0M800 567.50H796.0M0 574.77H4.0M800 574.77H796.0M0 582.05H8.5M800 582.05H791.5M0 589.32H4.0M800 589.32H796.0M0 596.59H4.0M800 596.59H796.0M0 603.86H4.0M800 603.86H796.0M0 611.14H4.0M800 611.14H796.0M0 618.41H17.5M800 618.41H782.5M0 625.68H4.0M800 625.68H796.0M0 632.95H4.0M800 632.95H796.0M0 640.23H4.0M800 640.23H796.0M0 647.50H4.0M800 647.50H796.0M0 654.77H8.5M800 654.77H791.5M0 662.05H4.0M800 662.05H796.0M0 669.32H4.0M800 669.32H796.0M0 676.59H4.0M800 676.59H796.0M0 683.86H4.0M800 683.86H796.0M0 691.14H17.5M800 691.14H782.5M0 698.41H4.0M800 698.41H796.0M0 705.68H4.0M800 705.68H796.0M0 712.95H4.0M800 712.95H796.0M0 720.23H4.0M800 720.23H796.0M0 727.50H8.5M800 727.50H791.5M0 734.77H4.0M800 734.77H796.0M0 742.05H4.0M800 742.05H796.0M0 749.32H4.0M800 749.32H796.0M0 756.59H4.0M800 756.59H796.0M0 763.86H17.5M800 763.86H782.5M0 771.14H4.0M800 771.14H796.0" fill="none" stroke="#000" stroke-width="1" shape-rendering="crispEdges"/>
</svg>
<div id="cbo" style="position:absolute;left:32px;top:160px;width:49px;height:610px;background:#000"></div>
<div style="position:absolute;left:33px;top:161px;width:47px;height:608px;background:#fff"></div>
<div style="position:absolute;left:34px;top:162px;width:45px;height:606px;background:linear-gradient(to bottom,#c00080 0.00%,#ff0000 16.67%,#ffff00 46.67%,#00f000 60.00%,#00ffff 73.33%,#0000ff 100.00%)"></div>
<div class="cbl" style="left:34px;top:134px;letter-spacing:2.6px;font-size:15.5px">[m/s]</div>
<div class="cbl" style="top:151px">30</div><div class="cbl" style="top:303px">22</div><div class="cbl" style="top:455px">15</div><div class="cbl" style="top:607px">8</div><div class="cbl" style="top:759px">0</div>
<div style="position:absolute;left:0;top:28px;width:800px;height:745px;overflow:hidden"><div style="position:absolute;left:0;top:-28px;width:800px;height:800px"><div class="lat" style="top:22.6px">31S</div><div class="lat" style="top:95.3px">32S</div><div class="lat" style="top:168.0px">33S</div><div class="lat" style="top:240.8px">34S</div><div class="lat" style="top:313.5px">35S</div><div class="lat" style="top:386.2px">36S</div><div class="lat" style="top:459.0px">37S</div><div class="lat" style="top:531.7px">38S</div><div class="lat" style="top:604.4px">39S</div><div class="lat" style="top:677.1px">40S</div><div class="lat" style="top:749.9px">41S</div><div class="lon" style="left:13.6px">61W</div><div class="lon" style="left:86.3px">60W</div><div class="lon" style="left:159.0px">59W</div><div class="lon" style="left:231.8px">58W</div><div class="lon" style="left:304.5px">57W</div><div class="lon" style="left:377.2px">56W</div><div class="lon" style="left:450.0px">55W</div><div class="lon" style="left:522.7px">54W</div><div class="lon" style="left:595.4px">53W</div><div class="lon" style="left:668.1px">52W</div><div class="lon" style="left:740.9px">51W</div></div></div>
<div class="t" style="left:6.3px;top:29.16px;transform:scaleX(1.1835)">modelo</div><div class="t" style="left:118.2px;top:29.16px;transform:scaleX(1.1433)">GEFS-WAVE</div><div class="t" style="left:294.5px;top:29.16px;transform:scaleX(1.1139)">(NCEP)</div><div class="t" style="left:5.9px;top:51.96px;transform:scaleX(1.2033)">forecast</div><div class="t" style="left:129.5px;top:51.96px;transform:scaleX(1.3325)">date:</div><div class="t" style="left:214.0px;top:51.96px;transform:scaleX(1.2727)">2024-01-21</div><div class="t" style="left:380.5px;top:51.96px;transform:scaleX(1.2083)">12:00:00</div><div class="t" style="left:42.4px;top:75.16px;transform:scaleX(1.1803)">valid</div><div class="t" style="left:119.0px;top:75.16px;transform:scaleX(1.3325)">date:</div><div class="t" style="left:203.4px;top:75.16px;transform:scaleX(1.2735)">2024-02-05</div><div class="t" style="left:370.0px;top:75.16px;transform:scaleX(1.2154)">06:00:00</div>
</div></body></html>
